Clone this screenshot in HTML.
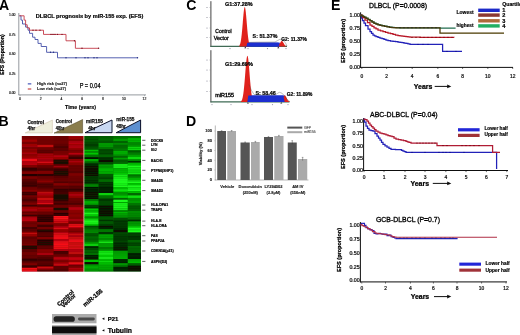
<!DOCTYPE html>
<html><head><meta charset="utf-8"><title>Figure</title>
<style>
html,body{margin:0;padding:0;background:#fff;}
body{width:520px;height:335px;overflow:hidden;}
svg{display:block;font-family:"Liberation Sans", sans-serif;}
</style></head>
<body>
<svg width="520" height="335" viewBox="0 0 520 335">
<defs>
<filter id="hb" x="-2%" y="-2%" width="104%" height="104%"><feGaussianBlur stdDeviation="0.35"/></filter>
<filter id="bb" x="-5%" y="-5%" width="110%" height="110%"><feGaussianBlur stdDeviation="0.5"/></filter>
<filter id="soft"><feGaussianBlur stdDeviation="0.3"/></filter>
</defs>
<rect width="520" height="335" fill="#fff"/>
<g filter="url(#soft)">
<text x="-1.0" y="9.6" font-size="14.1" font-weight="bold" text-anchor="start" fill="#000"  stroke="#000" stroke-width="0.000">A</text>
<text x="-1.4" y="126" font-size="14.1" font-weight="bold" text-anchor="start" fill="#000"  stroke="#000" stroke-width="0.000">B</text>
<text x="186.3" y="9.6" font-size="14.1" font-weight="bold" text-anchor="start" fill="#000"  stroke="#000" stroke-width="0.000">C</text>
<text x="186" y="125.9" font-size="14.1" font-weight="bold" text-anchor="start" fill="#000"  stroke="#000" stroke-width="0.000">D</text>
<text x="330.9" y="9.9" font-size="14.1" font-weight="bold" text-anchor="start" fill="#000"  stroke="#000" stroke-width="0.000">E</text>
<text x="35.7" y="17.6" font-size="5.7" font-weight="bold" text-anchor="start" fill="#000" textLength="107.6" lengthAdjust="spacingAndGlyphs"  stroke="#000" stroke-width="0.200">DLBCL prognosis by miR-155 exp. (EFS)</text>
<line x1="18.8" y1="13" x2="18.8" y2="95" stroke="#7a8088" stroke-width="0.8" />
<line x1="18.4" y1="94.9" x2="146" y2="94.9" stroke="#7a8088" stroke-width="0.8" />
<text x="15.5" y="16.2" font-size="3.4" font-weight="normal" text-anchor="end" fill="#111"  stroke="#111" stroke-width="0.153">1.00</text>
<text x="15.5" y="35.6" font-size="3.4" font-weight="normal" text-anchor="end" fill="#111"  stroke="#111" stroke-width="0.153">0.75</text>
<text x="15.5" y="55.2" font-size="3.4" font-weight="normal" text-anchor="end" fill="#111"  stroke="#111" stroke-width="0.153">0.50</text>
<text x="15.5" y="74.60000000000001" font-size="3.4" font-weight="normal" text-anchor="end" fill="#111"  stroke="#111" stroke-width="0.153">0.25</text>
<text x="15.5" y="93.8" font-size="3.4" font-weight="normal" text-anchor="end" fill="#111"  stroke="#111" stroke-width="0.153">0.00</text>
<text x="20" y="100.1" font-size="3.4" font-weight="normal" text-anchor="middle" fill="#111"  stroke="#111" stroke-width="0.153">0</text>
<line x1="20" y1="94.9" x2="20" y2="96.2" stroke="#7a8088" stroke-width="0.5" />
<text x="40.6" y="100.1" font-size="3.4" font-weight="normal" text-anchor="middle" fill="#111"  stroke="#111" stroke-width="0.153">2</text>
<line x1="40.6" y1="94.9" x2="40.6" y2="96.2" stroke="#7a8088" stroke-width="0.5" />
<text x="61.4" y="100.1" font-size="3.4" font-weight="normal" text-anchor="middle" fill="#111"  stroke="#111" stroke-width="0.153">4</text>
<line x1="61.4" y1="94.9" x2="61.4" y2="96.2" stroke="#7a8088" stroke-width="0.5" />
<text x="82.2" y="100.1" font-size="3.4" font-weight="normal" text-anchor="middle" fill="#111"  stroke="#111" stroke-width="0.153">6</text>
<line x1="82.2" y1="94.9" x2="82.2" y2="96.2" stroke="#7a8088" stroke-width="0.5" />
<text x="103" y="100.1" font-size="3.4" font-weight="normal" text-anchor="middle" fill="#111"  stroke="#111" stroke-width="0.153">8</text>
<line x1="103" y1="94.9" x2="103" y2="96.2" stroke="#7a8088" stroke-width="0.5" />
<text x="123.8" y="100.1" font-size="3.4" font-weight="normal" text-anchor="middle" fill="#111"  stroke="#111" stroke-width="0.153">10</text>
<line x1="123.8" y1="94.9" x2="123.8" y2="96.2" stroke="#7a8088" stroke-width="0.5" />
<text x="144.5" y="100.1" font-size="3.4" font-weight="normal" text-anchor="middle" fill="#111"  stroke="#111" stroke-width="0.153">12</text>
<line x1="144.5" y1="94.9" x2="144.5" y2="96.2" stroke="#7a8088" stroke-width="0.5" />
<text x="80.5" y="108.7" font-size="6.2" font-weight="bold" text-anchor="middle" fill="#000" textLength="31" lengthAdjust="spacingAndGlyphs"  stroke="#000" stroke-width="0.217">Time (years)</text>
<text transform="translate(3.9,54.5) rotate(-90)" font-size="5.4" font-weight="bold" text-anchor="middle" fill="#000" stroke="#000" stroke-width="0.243" textLength="40.5" lengthAdjust="spacingAndGlyphs">EFS (Proportion)</text>
<line x1="27.8" y1="83.9" x2="31.3" y2="83.9" stroke="#2233aa" stroke-width="1" />
<line x1="27.8" y1="89" x2="31.3" y2="89" stroke="#bb2222" stroke-width="1" />
<text x="37" y="84.7" font-size="4.1" font-weight="bold" text-anchor="start" fill="#222" textLength="30" lengthAdjust="spacingAndGlyphs"  stroke="#222" stroke-width="0.143">High risk (n=27)</text>
<text x="37" y="90.3" font-size="4.1" font-weight="bold" text-anchor="start" fill="#222" textLength="29" lengthAdjust="spacingAndGlyphs"  stroke="#222" stroke-width="0.143">Low risk (n=27)</text>
<text x="79.7" y="87.9" font-size="6.4" font-weight="normal" text-anchor="start" fill="#000" textLength="20.8" lengthAdjust="spacingAndGlyphs"  stroke="#000" stroke-width="0.250">P = 0.04</text>
<polyline points="19.40,15.80 21.00,15.80 21.00,20.10 22.50,20.10 22.50,24.00 25.60,24.00 25.60,27.10 28.00,27.10 28.00,30.20 29.50,30.20 29.50,33.30 32.60,33.30 32.60,37.20 35.00,37.20 35.00,39.50 38.00,39.50 38.00,43.40 41.20,43.40 41.20,46.50 46.60,46.50 46.60,52.30 57.50,52.30 57.50,57.80 137.50,57.80" fill="none" stroke="#4450a8" stroke-width="0.9" stroke-linejoin="miter" />
<polyline points="19.40,15.80 24.10,15.80 24.10,20.10 25.60,20.10 25.60,24.75 27.20,24.75 27.20,27.90 29.50,27.90 29.50,30.20 43.50,30.20 43.50,34.40 66.00,34.40 66.00,40.80 75.40,40.80 75.40,48.30 98.60,48.30" fill="none" stroke="#c43a48" stroke-width="0.9" stroke-linejoin="miter" />
<circle cx="33" cy="30.2" r="0.7" fill="#7a1420"/>
<circle cx="36" cy="30.2" r="0.7" fill="#7a1420"/>
<circle cx="40" cy="30.2" r="0.7" fill="#7a1420"/>
<circle cx="51" cy="34.4" r="0.7" fill="#7a1420"/>
<circle cx="53" cy="34.4" r="0.7" fill="#7a1420"/>
<circle cx="55" cy="34.4" r="0.7" fill="#7a1420"/>
<circle cx="57.5" cy="34.4" r="0.7" fill="#7a1420"/>
<circle cx="62" cy="34.4" r="0.7" fill="#7a1420"/>
<circle cx="74.5" cy="40.8" r="0.7" fill="#7a1420"/>
<circle cx="82" cy="48.3" r="0.7" fill="#7a1420"/>
<circle cx="98.6" cy="48.3" r="0.7" fill="#7a1420"/>
<circle cx="50.5" cy="52.3" r="0.7" fill="#232c80"/>
<circle cx="53.5" cy="52.3" r="0.7" fill="#232c80"/>
<circle cx="66" cy="57.8" r="0.7" fill="#232c80"/>
<circle cx="76" cy="57.8" r="0.7" fill="#232c80"/>
<circle cx="85" cy="57.8" r="0.7" fill="#232c80"/>
<circle cx="88" cy="57.8" r="0.7" fill="#232c80"/>
<circle cx="94" cy="57.8" r="0.7" fill="#232c80"/>
<circle cx="97" cy="57.8" r="0.7" fill="#232c80"/>
<circle cx="137.5" cy="57.8" r="0.7" fill="#232c80"/>
<polygon points="25.2,132.9 52.4,132.9 52.4,120" fill="#eeeedc" stroke="#c9b9a0" stroke-width="0.5"/>
<polygon points="54,133.1 82.6,133.1 82.6,119.5" fill="#8a7d4e" stroke="#4a4020" stroke-width="0.5"/>
<polygon points="85,132.7 112,132.7 112,120" fill="#c9d8f2" stroke="#0a0e28" stroke-width="1"/>
<polygon points="116.2,132.7 140.6,132.7 140.6,120" fill="#5b8fd0" stroke="#0a0e28" stroke-width="1"/>
<text x="27.4" y="123.8" font-size="5" font-weight="bold" text-anchor="start" fill="#111" textLength="16.6" lengthAdjust="spacingAndGlyphs"  stroke="#111" stroke-width="0.250">Control</text>
<text x="27.4" y="129.8" font-size="5" font-weight="bold" text-anchor="start" fill="#111" textLength="7.8" lengthAdjust="spacingAndGlyphs"  stroke="#111" stroke-width="0.250">4hr</text>
<text x="55.8" y="122.7" font-size="5" font-weight="bold" text-anchor="start" fill="#111" textLength="16.2" lengthAdjust="spacingAndGlyphs"  stroke="#111" stroke-width="0.250">Control</text>
<text x="55.8" y="129.5" font-size="5" font-weight="bold" text-anchor="start" fill="#111" textLength="8.4" lengthAdjust="spacingAndGlyphs"  stroke="#111" stroke-width="0.250">48hr</text>
<text x="86" y="123.4" font-size="5" font-weight="bold" text-anchor="start" fill="#111" textLength="17" lengthAdjust="spacingAndGlyphs"  stroke="#111" stroke-width="0.250">miR155</text>
<text x="88.2" y="130.2" font-size="5" font-weight="bold" text-anchor="start" fill="#111" textLength="7.4" lengthAdjust="spacingAndGlyphs"  stroke="#111" stroke-width="0.250">4hr</text>
<text x="116.2" y="120.8" font-size="5" font-weight="bold" text-anchor="start" fill="#111" textLength="18.2" lengthAdjust="spacingAndGlyphs"  stroke="#111" stroke-width="0.250">miR-155</text>
<text x="116.2" y="127.5" font-size="5" font-weight="bold" text-anchor="start" fill="#111" textLength="9.6" lengthAdjust="spacingAndGlyphs"  stroke="#111" stroke-width="0.250">48hr</text>
<g filter="url(#hb)">
<rect x="21.9" y="136" width="61.7" height="135.4" fill="#7a0000"/>
<rect x="84.2" y="136" width="56.7" height="135.4" fill="#007000"/>
<rect x="21.90" y="136.00" width="15.35" height="2.74" fill="rgb(117,0,0)"/>
<rect x="21.90" y="138.69" width="15.35" height="1.59" fill="rgb(138,0,3)"/>
<rect x="21.90" y="140.23" width="15.35" height="1.59" fill="rgb(169,3,9)"/>
<rect x="21.90" y="141.77" width="15.35" height="2.51" fill="rgb(121,0,0)"/>
<rect x="21.90" y="144.23" width="15.35" height="1.59" fill="rgb(167,3,9)"/>
<rect x="21.90" y="145.77" width="15.35" height="1.59" fill="rgb(156,1,7)"/>
<rect x="21.90" y="147.31" width="15.35" height="1.59" fill="rgb(120,0,0)"/>
<rect x="21.90" y="148.85" width="15.35" height="1.59" fill="rgb(145,0,5)"/>
<rect x="21.90" y="150.38" width="15.35" height="1.90" fill="rgb(138,0,3)"/>
<rect x="21.90" y="152.23" width="15.35" height="1.90" fill="rgb(165,2,9)"/>
<rect x="21.90" y="154.08" width="15.35" height="1.90" fill="rgb(141,0,4)"/>
<rect x="21.90" y="155.92" width="15.35" height="1.59" fill="rgb(150,0,6)"/>
<rect x="21.90" y="157.46" width="15.35" height="1.59" fill="rgb(174,4,10)"/>
<rect x="21.90" y="159.00" width="15.35" height="2.10" fill="rgb(235,15,23)"/>
<rect x="21.90" y="161.05" width="15.35" height="2.10" fill="rgb(177,4,11)"/>
<rect x="21.90" y="163.10" width="15.35" height="2.10" fill="rgb(185,6,13)"/>
<rect x="21.90" y="165.15" width="15.35" height="2.51" fill="rgb(128,0,1)"/>
<rect x="21.90" y="167.62" width="15.35" height="1.43" fill="rgb(51,0,0)"/>
<rect x="21.90" y="169.00" width="15.35" height="1.90" fill="rgb(53,0,0)"/>
<rect x="21.90" y="170.85" width="15.35" height="1.59" fill="rgb(108,0,0)"/>
<rect x="21.90" y="172.38" width="15.35" height="1.59" fill="rgb(134,0,2)"/>
<rect x="21.90" y="173.92" width="15.35" height="2.51" fill="rgb(35,6,0)"/>
<rect x="21.90" y="176.38" width="15.35" height="2.51" fill="rgb(119,0,0)"/>
<rect x="21.90" y="178.85" width="15.35" height="2.51" fill="rgb(88,0,0)"/>
<rect x="21.90" y="181.31" width="15.35" height="1.59" fill="rgb(67,0,0)"/>
<rect x="21.90" y="182.85" width="15.35" height="1.59" fill="rgb(66,0,0)"/>
<rect x="21.90" y="184.38" width="15.35" height="2.51" fill="rgb(56,0,0)"/>
<rect x="21.90" y="186.85" width="15.35" height="1.90" fill="rgb(107,0,0)"/>
<rect x="21.90" y="188.69" width="15.35" height="1.59" fill="rgb(114,0,0)"/>
<rect x="21.90" y="190.23" width="15.35" height="1.59" fill="rgb(135,0,3)"/>
<rect x="21.90" y="191.77" width="15.35" height="1.90" fill="rgb(64,0,0)"/>
<rect x="21.90" y="193.62" width="15.35" height="1.90" fill="rgb(58,0,0)"/>
<rect x="21.90" y="195.46" width="15.35" height="1.90" fill="rgb(115,0,0)"/>
<rect x="21.90" y="197.31" width="15.35" height="1.90" fill="rgb(94,0,0)"/>
<rect x="21.90" y="199.15" width="15.35" height="2.51" fill="rgb(72,0,0)"/>
<rect x="21.90" y="201.62" width="15.35" height="1.43" fill="rgb(108,0,0)"/>
<rect x="21.90" y="203.00" width="15.35" height="1.90" fill="rgb(124,0,0)"/>
<rect x="21.90" y="204.85" width="15.35" height="1.90" fill="rgb(65,0,0)"/>
<rect x="21.90" y="206.69" width="15.35" height="1.69" fill="rgb(152,0,6)"/>
<rect x="21.90" y="208.33" width="15.35" height="1.69" fill="rgb(170,3,10)"/>
<rect x="21.90" y="209.97" width="15.35" height="1.69" fill="rgb(161,1,8)"/>
<rect x="21.90" y="211.62" width="15.35" height="1.59" fill="rgb(98,0,0)"/>
<rect x="21.90" y="213.15" width="15.35" height="1.59" fill="rgb(119,0,0)"/>
<rect x="21.90" y="214.69" width="15.35" height="1.90" fill="rgb(62,0,0)"/>
<rect x="21.90" y="216.54" width="15.35" height="1.69" fill="rgb(165,2,9)"/>
<rect x="21.90" y="218.18" width="15.35" height="1.69" fill="rgb(189,7,13)"/>
<rect x="21.90" y="219.82" width="15.35" height="1.69" fill="rgb(186,6,13)"/>
<rect x="21.90" y="221.46" width="15.35" height="1.59" fill="rgb(111,0,0)"/>
<rect x="21.90" y="223.00" width="15.35" height="1.59" fill="rgb(105,0,0)"/>
<rect x="21.90" y="224.54" width="15.35" height="2.51" fill="rgb(115,0,0)"/>
<rect x="21.90" y="227.00" width="15.35" height="2.51" fill="rgb(69,0,0)"/>
<rect x="21.90" y="229.46" width="15.35" height="1.59" fill="rgb(90,0,0)"/>
<rect x="21.90" y="231.00" width="15.35" height="1.59" fill="rgb(103,0,0)"/>
<rect x="21.90" y="232.54" width="15.35" height="1.90" fill="rgb(192,7,14)"/>
<rect x="21.90" y="234.38" width="15.35" height="1.90" fill="rgb(150,0,6)"/>
<rect x="21.90" y="236.23" width="15.35" height="0.82" fill="rgb(115,0,0)"/>
<rect x="21.90" y="237.00" width="15.35" height="2.51" fill="rgb(95,0,0)"/>
<rect x="21.90" y="239.46" width="15.35" height="1.59" fill="rgb(103,0,0)"/>
<rect x="21.90" y="241.00" width="15.35" height="1.59" fill="rgb(107,0,0)"/>
<rect x="21.90" y="242.54" width="15.35" height="1.59" fill="rgb(109,0,0)"/>
<rect x="21.90" y="244.08" width="15.35" height="1.59" fill="rgb(122,0,0)"/>
<rect x="21.90" y="245.62" width="15.35" height="1.90" fill="rgb(26,10,0)"/>
<rect x="21.90" y="247.46" width="15.35" height="1.90" fill="rgb(31,8,0)"/>
<rect x="21.90" y="249.31" width="15.35" height="1.59" fill="rgb(90,0,0)"/>
<rect x="21.90" y="250.85" width="15.35" height="1.59" fill="rgb(90,0,0)"/>
<rect x="21.90" y="252.38" width="15.35" height="2.51" fill="rgb(114,0,0)"/>
<rect x="21.90" y="254.85" width="15.35" height="1.90" fill="rgb(98,0,0)"/>
<rect x="21.90" y="256.69" width="15.35" height="1.90" fill="rgb(102,0,0)"/>
<rect x="21.90" y="258.54" width="15.35" height="1.59" fill="rgb(48,0,0)"/>
<rect x="21.90" y="260.08" width="15.35" height="1.59" fill="rgb(51,0,0)"/>
<rect x="21.90" y="261.62" width="15.35" height="1.90" fill="rgb(96,0,0)"/>
<rect x="21.90" y="263.46" width="15.35" height="1.90" fill="rgb(125,0,1)"/>
<rect x="21.90" y="265.31" width="15.35" height="2.51" fill="rgb(61,0,0)"/>
<rect x="21.90" y="267.77" width="15.35" height="1.87" fill="rgb(243,16,24)"/>
<rect x="21.90" y="269.58" width="15.35" height="1.87" fill="rgb(229,14,21)"/>
<rect x="37.20" y="136.00" width="16.45" height="2.74" fill="rgb(115,0,0)"/>
<rect x="37.20" y="138.69" width="16.45" height="2.51" fill="rgb(111,0,0)"/>
<rect x="37.20" y="141.15" width="16.45" height="1.90" fill="rgb(113,0,0)"/>
<rect x="37.20" y="143.00" width="16.45" height="1.90" fill="rgb(110,0,0)"/>
<rect x="37.20" y="144.85" width="16.45" height="2.51" fill="rgb(191,7,14)"/>
<rect x="37.20" y="147.31" width="16.45" height="2.51" fill="rgb(109,0,0)"/>
<rect x="37.20" y="149.77" width="16.45" height="1.90" fill="rgb(90,0,0)"/>
<rect x="37.20" y="151.62" width="16.45" height="1.90" fill="rgb(88,0,0)"/>
<rect x="37.20" y="153.46" width="16.45" height="2.51" fill="rgb(160,1,8)"/>
<rect x="37.20" y="155.92" width="16.45" height="1.59" fill="rgb(165,2,9)"/>
<rect x="37.20" y="157.46" width="16.45" height="1.59" fill="rgb(174,4,10)"/>
<rect x="37.20" y="159.00" width="16.45" height="2.51" fill="rgb(157,1,7)"/>
<rect x="37.20" y="161.46" width="16.45" height="1.90" fill="rgb(211,10,18)"/>
<rect x="37.20" y="163.31" width="16.45" height="1.90" fill="rgb(154,0,6)"/>
<rect x="37.20" y="165.15" width="16.45" height="2.51" fill="rgb(102,0,0)"/>
<rect x="37.20" y="167.62" width="16.45" height="1.43" fill="rgb(80,0,0)"/>
<rect x="37.20" y="169.00" width="16.45" height="1.90" fill="rgb(70,0,0)"/>
<rect x="37.20" y="170.85" width="16.45" height="1.59" fill="rgb(127,0,1)"/>
<rect x="37.20" y="172.38" width="16.45" height="1.59" fill="rgb(129,0,1)"/>
<rect x="37.20" y="173.92" width="16.45" height="2.51" fill="rgb(47,1,0)"/>
<rect x="37.20" y="176.38" width="16.45" height="2.51" fill="rgb(101,0,0)"/>
<rect x="37.20" y="178.85" width="16.45" height="1.90" fill="rgb(115,0,0)"/>
<rect x="37.20" y="180.69" width="16.45" height="1.90" fill="rgb(140,0,4)"/>
<rect x="37.20" y="182.54" width="16.45" height="1.59" fill="rgb(92,0,0)"/>
<rect x="37.20" y="184.08" width="16.45" height="1.59" fill="rgb(67,0,0)"/>
<rect x="37.20" y="185.62" width="16.45" height="1.59" fill="rgb(76,0,0)"/>
<rect x="37.20" y="187.15" width="16.45" height="1.59" fill="rgb(78,0,0)"/>
<rect x="37.20" y="188.69" width="16.45" height="1.59" fill="rgb(109,0,0)"/>
<rect x="37.20" y="190.23" width="16.45" height="1.59" fill="rgb(121,0,0)"/>
<rect x="37.20" y="191.77" width="16.45" height="2.10" fill="rgb(189,7,13)"/>
<rect x="37.20" y="193.82" width="16.45" height="2.10" fill="rgb(166,2,9)"/>
<rect x="37.20" y="195.87" width="16.45" height="2.10" fill="rgb(147,0,5)"/>
<rect x="37.20" y="197.92" width="16.45" height="2.51" fill="rgb(198,8,15)"/>
<rect x="37.20" y="200.38" width="16.45" height="2.67" fill="rgb(173,4,10)"/>
<rect x="37.20" y="203.00" width="16.45" height="1.53" fill="rgb(218,12,19)"/>
<rect x="37.20" y="204.48" width="16.45" height="2.88" fill="rgb(91,0,0)"/>
<rect x="37.20" y="207.31" width="16.45" height="2.20" fill="rgb(156,1,7)"/>
<rect x="37.20" y="209.46" width="16.45" height="2.20" fill="rgb(146,0,5)"/>
<rect x="37.20" y="211.62" width="16.45" height="1.59" fill="rgb(101,0,0)"/>
<rect x="37.20" y="213.15" width="16.45" height="1.59" fill="rgb(103,0,0)"/>
<rect x="37.20" y="214.69" width="16.45" height="1.90" fill="rgb(56,0,0)"/>
<rect x="37.20" y="216.54" width="16.45" height="1.90" fill="rgb(44,2,0)"/>
<rect x="37.20" y="218.38" width="16.45" height="1.90" fill="rgb(43,3,0)"/>
<rect x="37.20" y="220.23" width="16.45" height="1.90" fill="rgb(44,2,0)"/>
<rect x="37.20" y="222.08" width="16.45" height="2.51" fill="rgb(119,0,0)"/>
<rect x="37.20" y="224.54" width="16.45" height="2.51" fill="rgb(65,0,0)"/>
<rect x="37.20" y="227.00" width="16.45" height="2.51" fill="rgb(111,0,0)"/>
<rect x="37.20" y="229.46" width="16.45" height="1.59" fill="rgb(32,8,0)"/>
<rect x="37.20" y="231.00" width="16.45" height="1.59" fill="rgb(40,4,0)"/>
<rect x="37.20" y="232.54" width="16.45" height="1.59" fill="rgb(88,0,0)"/>
<rect x="37.20" y="234.08" width="16.45" height="1.59" fill="rgb(88,0,0)"/>
<rect x="37.20" y="235.62" width="16.45" height="1.43" fill="rgb(77,0,0)"/>
<rect x="37.20" y="237.00" width="16.45" height="2.51" fill="rgb(126,0,1)"/>
<rect x="37.20" y="239.46" width="16.45" height="2.10" fill="rgb(36,6,0)"/>
<rect x="37.20" y="241.51" width="16.45" height="2.10" fill="rgb(31,8,0)"/>
<rect x="37.20" y="243.56" width="16.45" height="2.10" fill="rgb(31,8,0)"/>
<rect x="37.20" y="245.62" width="16.45" height="1.90" fill="rgb(92,0,0)"/>
<rect x="37.20" y="247.46" width="16.45" height="1.90" fill="rgb(90,0,0)"/>
<rect x="37.20" y="249.31" width="16.45" height="2.51" fill="rgb(137,0,3)"/>
<rect x="37.20" y="251.77" width="16.45" height="1.59" fill="rgb(134,0,2)"/>
<rect x="37.20" y="253.31" width="16.45" height="1.59" fill="rgb(189,7,13)"/>
<rect x="37.20" y="254.85" width="16.45" height="1.90" fill="rgb(101,0,0)"/>
<rect x="37.20" y="256.69" width="16.45" height="1.90" fill="rgb(83,0,0)"/>
<rect x="37.20" y="258.54" width="16.45" height="1.59" fill="rgb(61,0,0)"/>
<rect x="37.20" y="260.08" width="16.45" height="1.59" fill="rgb(63,0,0)"/>
<rect x="37.20" y="261.62" width="16.45" height="1.59" fill="rgb(91,0,0)"/>
<rect x="37.20" y="263.15" width="16.45" height="1.59" fill="rgb(82,0,0)"/>
<rect x="37.20" y="264.69" width="16.45" height="1.90" fill="rgb(66,0,0)"/>
<rect x="37.20" y="266.54" width="16.45" height="1.59" fill="rgb(196,8,15)"/>
<rect x="37.20" y="268.08" width="16.45" height="1.59" fill="rgb(162,2,8)"/>
<rect x="37.20" y="269.62" width="16.45" height="1.83" fill="rgb(86,0,0)"/>
<rect x="53.60" y="136.00" width="15.05" height="2.74" fill="rgb(105,0,0)"/>
<rect x="53.60" y="138.69" width="15.05" height="2.51" fill="rgb(106,0,0)"/>
<rect x="53.60" y="141.15" width="15.05" height="2.51" fill="rgb(109,0,0)"/>
<rect x="53.60" y="143.62" width="15.05" height="2.51" fill="rgb(96,0,0)"/>
<rect x="53.60" y="146.08" width="15.05" height="2.51" fill="rgb(76,0,0)"/>
<rect x="53.60" y="148.54" width="15.05" height="2.51" fill="rgb(92,0,0)"/>
<rect x="53.60" y="151.00" width="15.05" height="2.51" fill="rgb(118,0,0)"/>
<rect x="53.60" y="153.46" width="15.05" height="1.90" fill="rgb(125,0,1)"/>
<rect x="53.60" y="155.31" width="15.05" height="2.20" fill="rgb(181,5,12)"/>
<rect x="53.60" y="157.46" width="15.05" height="2.20" fill="rgb(154,0,6)"/>
<rect x="53.60" y="159.62" width="15.05" height="2.20" fill="rgb(29,9,0)"/>
<rect x="53.60" y="161.77" width="15.05" height="2.20" fill="rgb(23,12,0)"/>
<rect x="53.60" y="163.92" width="15.05" height="1.90" fill="rgb(88,0,0)"/>
<rect x="53.60" y="165.77" width="15.05" height="1.90" fill="rgb(155,0,7)"/>
<rect x="53.60" y="167.62" width="15.05" height="1.43" fill="rgb(79,0,0)"/>
<rect x="53.60" y="169.00" width="15.05" height="1.90" fill="rgb(56,0,0)"/>
<rect x="53.60" y="170.85" width="15.05" height="1.90" fill="rgb(31,8,0)"/>
<rect x="53.60" y="172.69" width="15.05" height="1.59" fill="rgb(24,11,0)"/>
<rect x="53.60" y="174.23" width="15.05" height="1.59" fill="rgb(22,12,0)"/>
<rect x="53.60" y="175.77" width="15.05" height="2.51" fill="rgb(86,0,0)"/>
<rect x="53.60" y="178.23" width="15.05" height="1.59" fill="rgb(97,0,0)"/>
<rect x="53.60" y="179.77" width="15.05" height="1.59" fill="rgb(106,0,0)"/>
<rect x="53.60" y="181.31" width="15.05" height="1.90" fill="rgb(81,0,0)"/>
<rect x="53.60" y="183.15" width="15.05" height="2.51" fill="rgb(132,0,2)"/>
<rect x="53.60" y="185.62" width="15.05" height="1.59" fill="rgb(88,0,0)"/>
<rect x="53.60" y="187.15" width="15.05" height="1.59" fill="rgb(93,0,0)"/>
<rect x="53.60" y="188.69" width="15.05" height="1.59" fill="rgb(49,0,0)"/>
<rect x="53.60" y="190.23" width="15.05" height="1.59" fill="rgb(48,0,0)"/>
<rect x="53.60" y="191.77" width="15.05" height="2.51" fill="rgb(68,0,0)"/>
<rect x="53.60" y="194.23" width="15.05" height="1.90" fill="rgb(23,12,0)"/>
<rect x="53.60" y="196.08" width="15.05" height="1.90" fill="rgb(19,13,0)"/>
<rect x="53.60" y="197.92" width="15.05" height="1.90" fill="rgb(21,13,0)"/>
<rect x="53.60" y="199.77" width="15.05" height="1.90" fill="rgb(49,0,0)"/>
<rect x="53.60" y="201.62" width="15.05" height="1.43" fill="rgb(85,0,0)"/>
<rect x="53.60" y="203.00" width="15.05" height="1.90" fill="rgb(63,0,0)"/>
<rect x="53.60" y="204.85" width="15.05" height="1.59" fill="rgb(106,0,0)"/>
<rect x="53.60" y="206.38" width="15.05" height="1.59" fill="rgb(105,0,0)"/>
<rect x="53.60" y="207.92" width="15.05" height="2.51" fill="rgb(20,13,0)"/>
<rect x="53.60" y="210.38" width="15.05" height="2.51" fill="rgb(102,0,0)"/>
<rect x="53.60" y="212.85" width="15.05" height="1.59" fill="rgb(37,5,0)"/>
<rect x="53.60" y="214.38" width="15.05" height="1.59" fill="rgb(45,2,0)"/>
<rect x="53.60" y="215.92" width="15.05" height="1.90" fill="rgb(250,18,26)"/>
<rect x="53.60" y="217.77" width="15.05" height="1.90" fill="rgb(250,18,26)"/>
<rect x="53.60" y="219.62" width="15.05" height="1.90" fill="rgb(211,10,18)"/>
<rect x="53.60" y="221.46" width="15.05" height="1.90" fill="rgb(198,8,15)"/>
<rect x="53.60" y="223.31" width="15.05" height="1.59" fill="rgb(129,0,1)"/>
<rect x="53.60" y="224.85" width="15.05" height="1.59" fill="rgb(128,0,1)"/>
<rect x="53.60" y="226.38" width="15.05" height="1.59" fill="rgb(180,5,12)"/>
<rect x="53.60" y="227.92" width="15.05" height="1.59" fill="rgb(213,11,18)"/>
<rect x="53.60" y="229.46" width="15.05" height="1.59" fill="rgb(145,0,5)"/>
<rect x="53.60" y="231.00" width="15.05" height="1.59" fill="rgb(142,0,4)"/>
<rect x="53.60" y="232.54" width="15.05" height="2.28" fill="rgb(211,10,18)"/>
<rect x="53.60" y="234.77" width="15.05" height="2.28" fill="rgb(226,13,21)"/>
<rect x="53.60" y="237.00" width="15.05" height="2.10" fill="rgb(238,15,23)"/>
<rect x="53.60" y="239.05" width="15.05" height="2.10" fill="rgb(178,5,11)"/>
<rect x="53.60" y="241.10" width="15.05" height="2.10" fill="rgb(226,13,21)"/>
<rect x="53.60" y="243.15" width="15.05" height="2.10" fill="rgb(247,17,25)"/>
<rect x="53.60" y="245.21" width="15.05" height="2.10" fill="rgb(237,15,23)"/>
<rect x="53.60" y="247.26" width="15.05" height="2.10" fill="rgb(234,15,22)"/>
<rect x="53.60" y="249.31" width="15.05" height="1.90" fill="rgb(173,4,10)"/>
<rect x="53.60" y="251.15" width="15.05" height="1.59" fill="rgb(59,0,0)"/>
<rect x="53.60" y="252.69" width="15.05" height="1.59" fill="rgb(75,0,0)"/>
<rect x="53.60" y="254.23" width="15.05" height="1.59" fill="rgb(99,0,0)"/>
<rect x="53.60" y="255.77" width="15.05" height="1.59" fill="rgb(119,0,0)"/>
<rect x="53.60" y="257.31" width="15.05" height="1.59" fill="rgb(195,8,15)"/>
<rect x="53.60" y="258.85" width="15.05" height="1.59" fill="rgb(158,1,7)"/>
<rect x="53.60" y="260.38" width="15.05" height="1.59" fill="rgb(121,0,0)"/>
<rect x="53.60" y="261.92" width="15.05" height="1.59" fill="rgb(148,0,5)"/>
<rect x="53.60" y="263.46" width="15.05" height="2.51" fill="rgb(189,7,13)"/>
<rect x="53.60" y="265.92" width="15.05" height="2.51" fill="rgb(92,0,0)"/>
<rect x="53.60" y="268.38" width="15.05" height="1.56" fill="rgb(82,0,0)"/>
<rect x="53.60" y="269.89" width="15.05" height="1.56" fill="rgb(83,0,0)"/>
<rect x="68.60" y="136.00" width="15.05" height="1.70" fill="rgb(157,1,7)"/>
<rect x="68.60" y="137.65" width="15.05" height="1.70" fill="rgb(152,0,6)"/>
<rect x="68.60" y="139.31" width="15.05" height="1.59" fill="rgb(125,0,1)"/>
<rect x="68.60" y="140.85" width="15.05" height="1.59" fill="rgb(164,2,8)"/>
<rect x="68.60" y="142.38" width="15.05" height="1.90" fill="rgb(184,6,12)"/>
<rect x="68.60" y="144.23" width="15.05" height="1.90" fill="rgb(164,2,8)"/>
<rect x="68.60" y="146.08" width="15.05" height="2.51" fill="rgb(173,4,10)"/>
<rect x="68.60" y="148.54" width="15.05" height="1.59" fill="rgb(138,0,3)"/>
<rect x="68.60" y="150.08" width="15.05" height="1.59" fill="rgb(116,0,0)"/>
<rect x="68.60" y="151.62" width="15.05" height="1.59" fill="rgb(133,0,2)"/>
<rect x="68.60" y="153.15" width="15.05" height="1.59" fill="rgb(195,8,15)"/>
<rect x="68.60" y="154.69" width="15.05" height="1.90" fill="rgb(102,0,0)"/>
<rect x="68.60" y="156.54" width="15.05" height="2.51" fill="rgb(58,0,0)"/>
<rect x="68.60" y="159.00" width="15.05" height="1.90" fill="rgb(136,0,3)"/>
<rect x="68.60" y="160.85" width="15.05" height="1.90" fill="rgb(170,3,10)"/>
<rect x="68.60" y="162.69" width="15.05" height="2.51" fill="rgb(133,0,2)"/>
<rect x="68.60" y="165.15" width="15.05" height="2.51" fill="rgb(98,0,0)"/>
<rect x="68.60" y="167.62" width="15.05" height="1.43" fill="rgb(100,0,0)"/>
<rect x="68.60" y="169.00" width="15.05" height="1.90" fill="rgb(102,0,0)"/>
<rect x="68.60" y="170.85" width="15.05" height="2.51" fill="rgb(88,0,0)"/>
<rect x="68.60" y="173.31" width="15.05" height="2.51" fill="rgb(125,0,1)"/>
<rect x="68.60" y="175.77" width="15.05" height="2.51" fill="rgb(108,0,0)"/>
<rect x="68.60" y="178.23" width="15.05" height="1.59" fill="rgb(102,0,0)"/>
<rect x="68.60" y="179.77" width="15.05" height="1.59" fill="rgb(109,0,0)"/>
<rect x="68.60" y="181.31" width="15.05" height="2.20" fill="rgb(89,0,0)"/>
<rect x="68.60" y="183.46" width="15.05" height="2.20" fill="rgb(121,0,0)"/>
<rect x="68.60" y="185.62" width="15.05" height="1.59" fill="rgb(82,0,0)"/>
<rect x="68.60" y="187.15" width="15.05" height="1.59" fill="rgb(85,0,0)"/>
<rect x="68.60" y="188.69" width="15.05" height="1.59" fill="rgb(54,0,0)"/>
<rect x="68.60" y="190.23" width="15.05" height="1.59" fill="rgb(60,0,0)"/>
<rect x="68.60" y="191.77" width="15.05" height="2.10" fill="rgb(143,0,4)"/>
<rect x="68.60" y="193.82" width="15.05" height="2.10" fill="rgb(172,3,10)"/>
<rect x="68.60" y="195.87" width="15.05" height="2.10" fill="rgb(148,0,5)"/>
<rect x="68.60" y="197.92" width="15.05" height="2.51" fill="rgb(106,0,0)"/>
<rect x="68.60" y="200.38" width="15.05" height="2.67" fill="rgb(96,0,0)"/>
<rect x="68.60" y="203.00" width="15.05" height="1.90" fill="rgb(78,0,0)"/>
<rect x="68.60" y="204.85" width="15.05" height="2.51" fill="rgb(123,0,0)"/>
<rect x="68.60" y="207.31" width="15.05" height="1.59" fill="rgb(186,6,13)"/>
<rect x="68.60" y="208.85" width="15.05" height="1.59" fill="rgb(171,3,10)"/>
<rect x="68.60" y="210.38" width="15.05" height="2.51" fill="rgb(140,0,4)"/>
<rect x="68.60" y="212.85" width="15.05" height="1.59" fill="rgb(126,0,1)"/>
<rect x="68.60" y="214.38" width="15.05" height="1.59" fill="rgb(143,0,4)"/>
<rect x="68.60" y="215.92" width="15.05" height="1.59" fill="rgb(137,0,3)"/>
<rect x="68.60" y="217.46" width="15.05" height="1.59" fill="rgb(128,0,1)"/>
<rect x="68.60" y="219.00" width="15.05" height="2.51" fill="rgb(162,2,8)"/>
<rect x="68.60" y="221.46" width="15.05" height="2.51" fill="rgb(117,0,0)"/>
<rect x="68.60" y="223.92" width="15.05" height="1.90" fill="rgb(218,12,19)"/>
<rect x="68.60" y="225.77" width="15.05" height="1.90" fill="rgb(237,15,23)"/>
<rect x="68.60" y="227.62" width="15.05" height="1.90" fill="rgb(139,0,3)"/>
<rect x="68.60" y="229.46" width="15.05" height="1.59" fill="rgb(129,0,1)"/>
<rect x="68.60" y="231.00" width="15.05" height="1.59" fill="rgb(113,0,0)"/>
<rect x="68.60" y="232.54" width="15.05" height="1.59" fill="rgb(168,3,9)"/>
<rect x="68.60" y="234.08" width="15.05" height="1.59" fill="rgb(203,9,16)"/>
<rect x="68.60" y="235.62" width="15.05" height="1.43" fill="rgb(165,2,9)"/>
<rect x="68.60" y="237.00" width="15.05" height="1.59" fill="rgb(198,8,15)"/>
<rect x="68.60" y="238.54" width="15.05" height="1.59" fill="rgb(213,11,18)"/>
<rect x="68.60" y="240.08" width="15.05" height="2.10" fill="rgb(236,15,23)"/>
<rect x="68.60" y="242.13" width="15.05" height="2.10" fill="rgb(199,8,15)"/>
<rect x="68.60" y="244.18" width="15.05" height="2.10" fill="rgb(212,11,18)"/>
<rect x="68.60" y="246.23" width="15.05" height="1.59" fill="rgb(213,11,18)"/>
<rect x="68.60" y="247.77" width="15.05" height="1.59" fill="rgb(214,11,18)"/>
<rect x="68.60" y="249.31" width="15.05" height="2.51" fill="rgb(177,4,11)"/>
<rect x="68.60" y="251.77" width="15.05" height="2.51" fill="rgb(190,7,14)"/>
<rect x="68.60" y="254.23" width="15.05" height="1.59" fill="rgb(137,0,3)"/>
<rect x="68.60" y="255.77" width="15.05" height="1.59" fill="rgb(134,0,2)"/>
<rect x="68.60" y="257.31" width="15.05" height="1.59" fill="rgb(204,9,16)"/>
<rect x="68.60" y="258.85" width="15.05" height="1.59" fill="rgb(188,6,13)"/>
<rect x="68.60" y="260.38" width="15.05" height="1.90" fill="rgb(144,0,4)"/>
<rect x="68.60" y="262.23" width="15.05" height="2.51" fill="rgb(227,13,21)"/>
<rect x="68.60" y="264.69" width="15.05" height="1.59" fill="rgb(105,0,0)"/>
<rect x="68.60" y="266.23" width="15.05" height="1.59" fill="rgb(119,0,0)"/>
<rect x="68.60" y="267.77" width="15.05" height="1.87" fill="rgb(170,3,10)"/>
<rect x="68.60" y="269.58" width="15.05" height="1.87" fill="rgb(164,2,8)"/>
<rect x="84.20" y="136.00" width="14.45" height="2.74" fill="rgb(0,83,0)"/>
<rect x="84.20" y="138.69" width="14.45" height="1.69" fill="rgb(0,74,0)"/>
<rect x="84.20" y="140.33" width="14.45" height="1.69" fill="rgb(0,85,0)"/>
<rect x="84.20" y="141.97" width="14.45" height="1.69" fill="rgb(0,72,0)"/>
<rect x="84.20" y="143.62" width="14.45" height="1.59" fill="rgb(0,61,0)"/>
<rect x="84.20" y="145.15" width="14.45" height="1.59" fill="rgb(0,56,0)"/>
<rect x="84.20" y="146.69" width="14.45" height="1.59" fill="rgb(0,82,0)"/>
<rect x="84.20" y="148.23" width="14.45" height="1.59" fill="rgb(0,86,0)"/>
<rect x="84.20" y="149.77" width="14.45" height="1.59" fill="rgb(0,190,0)"/>
<rect x="84.20" y="151.31" width="14.45" height="1.59" fill="rgb(0,142,0)"/>
<rect x="84.20" y="152.85" width="14.45" height="1.90" fill="rgb(4,199,4)"/>
<rect x="84.20" y="154.69" width="14.45" height="2.51" fill="rgb(0,113,0)"/>
<rect x="84.20" y="157.15" width="14.45" height="1.90" fill="rgb(6,25,0)"/>
<rect x="84.20" y="159.00" width="14.45" height="2.51" fill="rgb(0,167,0)"/>
<rect x="84.20" y="161.46" width="14.45" height="1.90" fill="rgb(0,103,0)"/>
<rect x="84.20" y="163.31" width="14.45" height="2.51" fill="rgb(0,43,0)"/>
<rect x="84.20" y="165.77" width="14.45" height="1.67" fill="rgb(9,17,0)"/>
<rect x="84.20" y="167.38" width="14.45" height="1.67" fill="rgb(10,13,0)"/>
<rect x="84.20" y="169.00" width="14.45" height="1.90" fill="rgb(10,14,0)"/>
<rect x="84.20" y="170.85" width="14.45" height="1.90" fill="rgb(9,17,0)"/>
<rect x="84.20" y="172.69" width="14.45" height="1.90" fill="rgb(9,16,0)"/>
<rect x="84.20" y="174.54" width="14.45" height="1.90" fill="rgb(11,12,0)"/>
<rect x="84.20" y="176.38" width="14.45" height="1.59" fill="rgb(0,56,0)"/>
<rect x="84.20" y="177.92" width="14.45" height="1.59" fill="rgb(0,58,0)"/>
<rect x="84.20" y="179.46" width="14.45" height="2.20" fill="rgb(0,45,0)"/>
<rect x="84.20" y="181.62" width="14.45" height="2.20" fill="rgb(0,42,0)"/>
<rect x="84.20" y="183.77" width="14.45" height="1.59" fill="rgb(0,117,0)"/>
<rect x="84.20" y="185.31" width="14.45" height="1.59" fill="rgb(0,137,0)"/>
<rect x="84.20" y="186.85" width="14.45" height="1.69" fill="rgb(6,23,0)"/>
<rect x="84.20" y="188.49" width="14.45" height="1.69" fill="rgb(4,29,0)"/>
<rect x="84.20" y="190.13" width="14.45" height="1.69" fill="rgb(4,28,0)"/>
<rect x="84.20" y="191.77" width="14.45" height="1.90" fill="rgb(11,11,0)"/>
<rect x="84.20" y="193.62" width="14.45" height="1.90" fill="rgb(10,13,0)"/>
<rect x="84.20" y="195.46" width="14.45" height="1.90" fill="rgb(10,15,0)"/>
<rect x="84.20" y="197.31" width="14.45" height="1.90" fill="rgb(10,14,0)"/>
<rect x="84.20" y="199.15" width="14.45" height="1.97" fill="rgb(0,120,0)"/>
<rect x="84.20" y="201.08" width="14.45" height="1.97" fill="rgb(0,173,0)"/>
<rect x="84.20" y="203.00" width="14.45" height="1.90" fill="rgb(0,161,0)"/>
<rect x="84.20" y="204.85" width="14.45" height="1.90" fill="rgb(0,68,0)"/>
<rect x="84.20" y="206.69" width="14.45" height="1.90" fill="rgb(0,49,0)"/>
<rect x="84.20" y="208.54" width="14.45" height="2.05" fill="rgb(6,202,6)"/>
<rect x="84.20" y="210.54" width="14.45" height="2.05" fill="rgb(0,182,0)"/>
<rect x="84.20" y="212.54" width="14.45" height="2.05" fill="rgb(28,247,28)"/>
<rect x="84.20" y="214.54" width="14.45" height="2.05" fill="rgb(6,203,6)"/>
<rect x="84.20" y="216.54" width="14.45" height="1.90" fill="rgb(0,140,0)"/>
<rect x="84.20" y="218.38" width="14.45" height="1.90" fill="rgb(8,206,8)"/>
<rect x="84.20" y="220.23" width="14.45" height="1.90" fill="rgb(28,247,28)"/>
<rect x="84.20" y="222.08" width="14.45" height="1.90" fill="rgb(25,240,25)"/>
<rect x="84.20" y="223.92" width="14.45" height="1.90" fill="rgb(1,193,1)"/>
<rect x="84.20" y="225.77" width="14.45" height="1.90" fill="rgb(0,75,0)"/>
<rect x="84.20" y="227.62" width="14.45" height="1.90" fill="rgb(0,101,0)"/>
<rect x="84.20" y="229.46" width="14.45" height="1.90" fill="rgb(0,129,0)"/>
<rect x="84.20" y="231.31" width="14.45" height="1.90" fill="rgb(0,136,0)"/>
<rect x="84.20" y="233.15" width="14.45" height="1.76" fill="rgb(0,81,0)"/>
<rect x="84.20" y="234.87" width="14.45" height="1.76" fill="rgb(0,80,0)"/>
<rect x="84.20" y="236.58" width="14.45" height="1.76" fill="rgb(0,104,0)"/>
<rect x="84.20" y="238.29" width="14.45" height="1.76" fill="rgb(0,94,0)"/>
<rect x="84.20" y="240.00" width="14.45" height="1.84" fill="rgb(0,104,0)"/>
<rect x="84.20" y="241.79" width="14.45" height="1.84" fill="rgb(0,147,0)"/>
<rect x="84.20" y="243.58" width="14.45" height="2.67" fill="rgb(7,204,7)"/>
<rect x="84.20" y="246.20" width="14.45" height="2.20" fill="rgb(0,43,0)"/>
<rect x="84.20" y="248.35" width="14.45" height="1.84" fill="rgb(0,73,0)"/>
<rect x="84.20" y="250.13" width="14.45" height="1.84" fill="rgb(0,99,0)"/>
<rect x="84.20" y="251.92" width="14.45" height="1.54" fill="rgb(0,88,0)"/>
<rect x="84.20" y="253.41" width="14.45" height="1.54" fill="rgb(0,121,0)"/>
<rect x="84.20" y="254.90" width="14.45" height="1.54" fill="rgb(4,28,0)"/>
<rect x="84.20" y="256.39" width="14.45" height="1.54" fill="rgb(5,27,0)"/>
<rect x="84.20" y="257.88" width="14.45" height="1.84" fill="rgb(8,19,0)"/>
<rect x="84.20" y="259.67" width="14.45" height="2.43" fill="rgb(1,192,1)"/>
<rect x="84.20" y="262.06" width="14.45" height="2.43" fill="rgb(9,17,0)"/>
<rect x="84.20" y="264.44" width="14.45" height="1.79" fill="rgb(0,149,0)"/>
<rect x="84.20" y="266.18" width="14.45" height="1.79" fill="rgb(0,176,0)"/>
<rect x="84.20" y="267.92" width="14.45" height="1.79" fill="rgb(0,156,0)"/>
<rect x="84.20" y="269.66" width="14.45" height="1.79" fill="rgb(0,147,0)"/>
<rect x="98.60" y="136.00" width="14.85" height="2.74" fill="rgb(0,92,0)"/>
<rect x="98.60" y="138.69" width="14.85" height="1.90" fill="rgb(0,103,0)"/>
<rect x="98.60" y="140.54" width="14.85" height="2.51" fill="rgb(0,85,0)"/>
<rect x="98.60" y="143.00" width="14.85" height="2.20" fill="rgb(0,152,0)"/>
<rect x="98.60" y="145.15" width="14.85" height="2.20" fill="rgb(0,152,0)"/>
<rect x="98.60" y="147.31" width="14.85" height="1.90" fill="rgb(0,117,0)"/>
<rect x="98.60" y="149.15" width="14.85" height="1.90" fill="rgb(0,71,0)"/>
<rect x="98.60" y="151.00" width="14.85" height="1.90" fill="rgb(0,77,0)"/>
<rect x="98.60" y="152.85" width="14.85" height="1.90" fill="rgb(0,67,0)"/>
<rect x="98.60" y="154.69" width="14.85" height="2.51" fill="rgb(0,100,0)"/>
<rect x="98.60" y="157.15" width="14.85" height="2.51" fill="rgb(0,47,0)"/>
<rect x="98.60" y="159.62" width="14.85" height="2.51" fill="rgb(9,17,0)"/>
<rect x="98.60" y="162.08" width="14.85" height="2.51" fill="rgb(0,78,0)"/>
<rect x="98.60" y="164.54" width="14.85" height="1.59" fill="rgb(0,158,0)"/>
<rect x="98.60" y="166.08" width="14.85" height="1.59" fill="rgb(0,148,0)"/>
<rect x="98.60" y="167.62" width="14.85" height="1.43" fill="rgb(0,170,0)"/>
<rect x="98.60" y="169.00" width="14.85" height="2.51" fill="rgb(0,182,0)"/>
<rect x="98.60" y="171.46" width="14.85" height="2.51" fill="rgb(0,170,0)"/>
<rect x="98.60" y="173.92" width="14.85" height="2.51" fill="rgb(0,90,0)"/>
<rect x="98.60" y="176.38" width="14.85" height="1.59" fill="rgb(0,76,0)"/>
<rect x="98.60" y="177.92" width="14.85" height="1.59" fill="rgb(0,66,0)"/>
<rect x="98.60" y="179.46" width="14.85" height="2.51" fill="rgb(0,106,0)"/>
<rect x="98.60" y="181.92" width="14.85" height="1.69" fill="rgb(0,54,0)"/>
<rect x="98.60" y="183.56" width="14.85" height="1.69" fill="rgb(0,46,0)"/>
<rect x="98.60" y="185.21" width="14.85" height="1.69" fill="rgb(0,48,0)"/>
<rect x="98.60" y="186.85" width="14.85" height="2.10" fill="rgb(3,31,0)"/>
<rect x="98.60" y="188.90" width="14.85" height="2.10" fill="rgb(2,34,0)"/>
<rect x="98.60" y="190.95" width="14.85" height="2.10" fill="rgb(5,27,0)"/>
<rect x="98.60" y="193.00" width="14.85" height="2.51" fill="rgb(9,208,9)"/>
<rect x="98.60" y="195.46" width="14.85" height="1.59" fill="rgb(0,115,0)"/>
<rect x="98.60" y="197.00" width="14.85" height="1.59" fill="rgb(0,112,0)"/>
<rect x="98.60" y="198.54" width="14.85" height="2.51" fill="rgb(0,56,0)"/>
<rect x="98.60" y="201.00" width="14.85" height="2.05" fill="rgb(0,72,0)"/>
<rect x="98.60" y="203.00" width="14.85" height="2.51" fill="rgb(0,72,0)"/>
<rect x="98.60" y="205.46" width="14.85" height="1.90" fill="rgb(9,16,0)"/>
<rect x="98.60" y="207.31" width="14.85" height="1.90" fill="rgb(9,16,0)"/>
<rect x="98.60" y="209.15" width="14.85" height="1.90" fill="rgb(7,21,0)"/>
<rect x="98.60" y="211.00" width="14.85" height="1.90" fill="rgb(9,17,0)"/>
<rect x="98.60" y="212.85" width="14.85" height="1.90" fill="rgb(9,16,0)"/>
<rect x="98.60" y="214.69" width="14.85" height="1.90" fill="rgb(9,16,0)"/>
<rect x="98.60" y="216.54" width="14.85" height="1.59" fill="rgb(0,87,0)"/>
<rect x="98.60" y="218.08" width="14.85" height="1.59" fill="rgb(0,88,0)"/>
<rect x="98.60" y="219.62" width="14.85" height="1.90" fill="rgb(0,51,0)"/>
<rect x="98.60" y="221.46" width="14.85" height="2.51" fill="rgb(0,88,0)"/>
<rect x="98.60" y="223.92" width="14.85" height="1.90" fill="rgb(0,61,0)"/>
<rect x="98.60" y="225.77" width="14.85" height="1.59" fill="rgb(9,17,0)"/>
<rect x="98.60" y="227.31" width="14.85" height="1.59" fill="rgb(8,19,0)"/>
<rect x="98.60" y="228.85" width="14.85" height="1.59" fill="rgb(0,109,0)"/>
<rect x="98.60" y="230.38" width="14.85" height="1.59" fill="rgb(0,123,0)"/>
<rect x="98.60" y="231.92" width="14.85" height="2.51" fill="rgb(0,52,0)"/>
<rect x="98.60" y="234.38" width="14.85" height="1.92" fill="rgb(0,160,0)"/>
<rect x="98.60" y="236.26" width="14.85" height="1.92" fill="rgb(0,160,0)"/>
<rect x="98.60" y="238.13" width="14.85" height="1.92" fill="rgb(0,138,0)"/>
<rect x="98.60" y="240.00" width="14.85" height="1.54" fill="rgb(0,174,0)"/>
<rect x="98.60" y="241.49" width="14.85" height="1.54" fill="rgb(19,229,19)"/>
<rect x="98.60" y="242.98" width="14.85" height="2.14" fill="rgb(0,152,0)"/>
<rect x="98.60" y="245.07" width="14.85" height="2.14" fill="rgb(0,155,0)"/>
<rect x="98.60" y="247.15" width="14.85" height="1.84" fill="rgb(0,117,0)"/>
<rect x="98.60" y="248.94" width="14.85" height="1.84" fill="rgb(0,138,0)"/>
<rect x="98.60" y="250.73" width="14.85" height="2.14" fill="rgb(17,225,17)"/>
<rect x="98.60" y="252.82" width="14.85" height="2.14" fill="rgb(19,228,19)"/>
<rect x="98.60" y="254.90" width="14.85" height="2.14" fill="rgb(5,201,5)"/>
<rect x="98.60" y="256.99" width="14.85" height="2.14" fill="rgb(19,228,19)"/>
<rect x="98.60" y="259.08" width="14.85" height="1.64" fill="rgb(0,191,0)"/>
<rect x="98.60" y="260.67" width="14.85" height="1.64" fill="rgb(12,215,12)"/>
<rect x="98.60" y="262.26" width="14.85" height="1.64" fill="rgb(4,199,4)"/>
<rect x="98.60" y="263.85" width="14.85" height="1.84" fill="rgb(0,177,0)"/>
<rect x="98.60" y="265.63" width="14.85" height="2.14" fill="rgb(0,167,0)"/>
<rect x="98.60" y="267.72" width="14.85" height="2.14" fill="rgb(0,165,0)"/>
<rect x="98.60" y="269.81" width="14.85" height="1.64" fill="rgb(0,134,0)"/>
<rect x="113.40" y="136.00" width="14.45" height="2.74" fill="rgb(0,112,0)"/>
<rect x="113.40" y="138.69" width="14.45" height="2.51" fill="rgb(0,150,0)"/>
<rect x="113.40" y="141.15" width="14.45" height="1.90" fill="rgb(0,98,0)"/>
<rect x="113.40" y="143.00" width="14.45" height="1.90" fill="rgb(0,138,0)"/>
<rect x="113.40" y="144.85" width="14.45" height="1.90" fill="rgb(0,102,0)"/>
<rect x="113.40" y="146.69" width="14.45" height="1.90" fill="rgb(0,105,0)"/>
<rect x="113.40" y="148.54" width="14.45" height="2.51" fill="rgb(0,122,0)"/>
<rect x="113.40" y="151.00" width="14.45" height="1.90" fill="rgb(0,176,0)"/>
<rect x="113.40" y="152.85" width="14.45" height="1.90" fill="rgb(0,171,0)"/>
<rect x="113.40" y="154.69" width="14.45" height="1.59" fill="rgb(0,138,0)"/>
<rect x="113.40" y="156.23" width="14.45" height="1.59" fill="rgb(0,100,0)"/>
<rect x="113.40" y="157.77" width="14.45" height="1.90" fill="rgb(0,158,0)"/>
<rect x="113.40" y="159.62" width="14.45" height="2.51" fill="rgb(0,92,0)"/>
<rect x="113.40" y="162.08" width="14.45" height="1.90" fill="rgb(0,103,0)"/>
<rect x="113.40" y="163.92" width="14.45" height="2.20" fill="rgb(20,230,20)"/>
<rect x="113.40" y="166.08" width="14.45" height="2.20" fill="rgb(22,234,22)"/>
<rect x="113.40" y="168.23" width="14.45" height="0.82" fill="rgb(0,173,0)"/>
<rect x="113.40" y="169.00" width="14.45" height="1.90" fill="rgb(0,180,0)"/>
<rect x="113.40" y="170.85" width="14.45" height="1.90" fill="rgb(0,185,0)"/>
<rect x="113.40" y="172.69" width="14.45" height="1.90" fill="rgb(4,199,4)"/>
<rect x="113.40" y="174.54" width="14.45" height="1.90" fill="rgb(22,234,22)"/>
<rect x="113.40" y="176.38" width="14.45" height="1.90" fill="rgb(21,233,21)"/>
<rect x="113.40" y="178.23" width="14.45" height="1.90" fill="rgb(30,250,30)"/>
<rect x="113.40" y="180.08" width="14.45" height="1.90" fill="rgb(30,250,30)"/>
<rect x="113.40" y="181.92" width="14.45" height="1.90" fill="rgb(30,250,30)"/>
<rect x="113.40" y="183.77" width="14.45" height="1.90" fill="rgb(25,240,25)"/>
<rect x="113.40" y="185.62" width="14.45" height="1.90" fill="rgb(30,250,30)"/>
<rect x="113.40" y="187.46" width="14.45" height="1.90" fill="rgb(0,187,0)"/>
<rect x="113.40" y="189.31" width="14.45" height="1.59" fill="rgb(24,239,24)"/>
<rect x="113.40" y="190.85" width="14.45" height="1.59" fill="rgb(4,199,4)"/>
<rect x="113.40" y="192.38" width="14.45" height="1.59" fill="rgb(0,142,0)"/>
<rect x="113.40" y="193.92" width="14.45" height="1.59" fill="rgb(0,149,0)"/>
<rect x="113.40" y="195.46" width="14.45" height="2.51" fill="rgb(5,201,5)"/>
<rect x="113.40" y="197.92" width="14.45" height="1.90" fill="rgb(0,98,0)"/>
<rect x="113.40" y="199.77" width="14.45" height="2.51" fill="rgb(30,250,30)"/>
<rect x="113.40" y="202.23" width="14.45" height="0.82" fill="rgb(0,168,0)"/>
<rect x="113.40" y="203.00" width="14.45" height="1.90" fill="rgb(24,239,24)"/>
<rect x="113.40" y="204.85" width="14.45" height="1.90" fill="rgb(24,239,24)"/>
<rect x="113.40" y="206.69" width="14.45" height="1.90" fill="rgb(27,244,27)"/>
<rect x="113.40" y="208.54" width="14.45" height="1.90" fill="rgb(18,226,18)"/>
<rect x="113.40" y="210.38" width="14.45" height="1.59" fill="rgb(0,132,0)"/>
<rect x="113.40" y="211.92" width="14.45" height="1.59" fill="rgb(0,184,0)"/>
<rect x="113.40" y="213.46" width="14.45" height="2.20" fill="rgb(0,159,0)"/>
<rect x="113.40" y="215.62" width="14.45" height="2.20" fill="rgb(0,145,0)"/>
<rect x="113.40" y="217.77" width="14.45" height="2.51" fill="rgb(0,78,0)"/>
<rect x="113.40" y="220.23" width="14.45" height="2.51" fill="rgb(0,51,0)"/>
<rect x="113.40" y="222.69" width="14.45" height="2.51" fill="rgb(0,56,0)"/>
<rect x="113.40" y="225.15" width="14.45" height="2.20" fill="rgb(0,52,0)"/>
<rect x="113.40" y="227.31" width="14.45" height="2.20" fill="rgb(0,43,0)"/>
<rect x="113.40" y="229.46" width="14.45" height="1.59" fill="rgb(9,16,0)"/>
<rect x="113.40" y="231.00" width="14.45" height="1.59" fill="rgb(9,17,0)"/>
<rect x="113.40" y="232.54" width="14.45" height="1.59" fill="rgb(0,74,0)"/>
<rect x="113.40" y="234.08" width="14.45" height="1.59" fill="rgb(0,60,0)"/>
<rect x="113.40" y="235.62" width="14.45" height="2.24" fill="rgb(0,53,0)"/>
<rect x="113.40" y="237.81" width="14.45" height="2.24" fill="rgb(0,57,0)"/>
<rect x="113.40" y="240.00" width="14.45" height="1.54" fill="rgb(0,58,0)"/>
<rect x="113.40" y="241.49" width="14.45" height="1.54" fill="rgb(0,55,0)"/>
<rect x="113.40" y="242.98" width="14.45" height="1.84" fill="rgb(0,38,0)"/>
<rect x="113.40" y="244.77" width="14.45" height="1.84" fill="rgb(0,41,0)"/>
<rect x="113.40" y="246.56" width="14.45" height="2.14" fill="rgb(7,21,0)"/>
<rect x="113.40" y="248.64" width="14.45" height="2.14" fill="rgb(8,20,0)"/>
<rect x="113.40" y="250.73" width="14.45" height="2.43" fill="rgb(0,153,0)"/>
<rect x="113.40" y="253.12" width="14.45" height="2.04" fill="rgb(0,161,0)"/>
<rect x="113.40" y="255.10" width="14.45" height="2.04" fill="rgb(0,167,0)"/>
<rect x="113.40" y="257.09" width="14.45" height="2.04" fill="rgb(0,175,0)"/>
<rect x="113.40" y="259.08" width="14.45" height="2.14" fill="rgb(0,42,0)"/>
<rect x="113.40" y="261.16" width="14.45" height="2.14" fill="rgb(2,35,0)"/>
<rect x="113.40" y="263.25" width="14.45" height="1.84" fill="rgb(0,149,0)"/>
<rect x="113.40" y="265.04" width="14.45" height="1.84" fill="rgb(0,117,0)"/>
<rect x="113.40" y="266.83" width="14.45" height="2.34" fill="rgb(3,32,0)"/>
<rect x="113.40" y="269.11" width="14.45" height="2.34" fill="rgb(2,35,0)"/>
<rect x="127.80" y="136.00" width="13.15" height="2.13" fill="rgb(0,113,0)"/>
<rect x="127.80" y="138.08" width="13.15" height="2.20" fill="rgb(0,177,0)"/>
<rect x="127.80" y="140.23" width="13.15" height="2.20" fill="rgb(0,176,0)"/>
<rect x="127.80" y="142.38" width="13.15" height="2.20" fill="rgb(0,133,0)"/>
<rect x="127.80" y="144.54" width="13.15" height="2.20" fill="rgb(0,146,0)"/>
<rect x="127.80" y="146.69" width="13.15" height="1.90" fill="rgb(10,210,10)"/>
<rect x="127.80" y="148.54" width="13.15" height="1.90" fill="rgb(10,210,10)"/>
<rect x="127.80" y="150.38" width="13.15" height="2.20" fill="rgb(0,90,0)"/>
<rect x="127.80" y="152.54" width="13.15" height="2.20" fill="rgb(0,123,0)"/>
<rect x="127.80" y="154.69" width="13.15" height="2.20" fill="rgb(0,162,0)"/>
<rect x="127.80" y="156.85" width="13.15" height="2.20" fill="rgb(14,218,14)"/>
<rect x="127.80" y="159.00" width="13.15" height="1.90" fill="rgb(0,147,0)"/>
<rect x="127.80" y="160.85" width="13.15" height="1.90" fill="rgb(0,47,0)"/>
<rect x="127.80" y="162.69" width="13.15" height="1.59" fill="rgb(0,181,0)"/>
<rect x="127.80" y="164.23" width="13.15" height="1.59" fill="rgb(8,207,8)"/>
<rect x="127.80" y="165.77" width="13.15" height="1.67" fill="rgb(30,250,30)"/>
<rect x="127.80" y="167.38" width="13.15" height="1.67" fill="rgb(19,228,19)"/>
<rect x="127.80" y="169.00" width="13.15" height="1.90" fill="rgb(13,216,13)"/>
<rect x="127.80" y="170.85" width="13.15" height="1.90" fill="rgb(10,210,10)"/>
<rect x="127.80" y="172.69" width="13.15" height="1.90" fill="rgb(18,227,18)"/>
<rect x="127.80" y="174.54" width="13.15" height="1.59" fill="rgb(0,111,0)"/>
<rect x="127.80" y="176.08" width="13.15" height="1.59" fill="rgb(0,130,0)"/>
<rect x="127.80" y="177.62" width="13.15" height="1.90" fill="rgb(0,175,0)"/>
<rect x="127.80" y="179.46" width="13.15" height="1.90" fill="rgb(7,205,7)"/>
<rect x="127.80" y="181.31" width="13.15" height="2.02" fill="rgb(30,250,30)"/>
<rect x="127.80" y="183.28" width="13.15" height="2.02" fill="rgb(2,195,2)"/>
<rect x="127.80" y="185.25" width="13.15" height="2.02" fill="rgb(30,250,30)"/>
<rect x="127.80" y="187.22" width="13.15" height="2.02" fill="rgb(19,228,19)"/>
<rect x="127.80" y="189.18" width="13.15" height="2.02" fill="rgb(30,250,30)"/>
<rect x="127.80" y="191.15" width="13.15" height="1.90" fill="rgb(0,188,0)"/>
<rect x="127.80" y="193.00" width="13.15" height="2.51" fill="rgb(0,104,0)"/>
<rect x="127.80" y="195.46" width="13.15" height="2.51" fill="rgb(17,224,17)"/>
<rect x="127.80" y="197.92" width="13.15" height="2.51" fill="rgb(0,144,0)"/>
<rect x="127.80" y="200.38" width="13.15" height="2.67" fill="rgb(0,157,0)"/>
<rect x="127.80" y="203.00" width="13.15" height="2.51" fill="rgb(0,117,0)"/>
<rect x="127.80" y="205.46" width="13.15" height="1.90" fill="rgb(0,87,0)"/>
<rect x="127.80" y="207.31" width="13.15" height="1.90" fill="rgb(0,85,0)"/>
<rect x="127.80" y="209.15" width="13.15" height="1.90" fill="rgb(0,98,0)"/>
<rect x="127.80" y="211.00" width="13.15" height="2.51" fill="rgb(0,141,0)"/>
<rect x="127.80" y="213.46" width="13.15" height="1.90" fill="rgb(0,136,0)"/>
<rect x="127.80" y="215.31" width="13.15" height="1.90" fill="rgb(0,135,0)"/>
<rect x="127.80" y="217.15" width="13.15" height="2.51" fill="rgb(0,109,0)"/>
<rect x="127.80" y="219.62" width="13.15" height="1.90" fill="rgb(0,46,0)"/>
<rect x="127.80" y="221.46" width="13.15" height="2.20" fill="rgb(0,149,0)"/>
<rect x="127.80" y="223.62" width="13.15" height="2.20" fill="rgb(0,153,0)"/>
<rect x="127.80" y="225.77" width="13.15" height="1.74" fill="rgb(0,189,0)"/>
<rect x="127.80" y="227.46" width="13.15" height="1.74" fill="rgb(30,250,30)"/>
<rect x="127.80" y="229.15" width="13.15" height="1.74" fill="rgb(25,241,25)"/>
<rect x="127.80" y="230.85" width="13.15" height="1.74" fill="rgb(30,250,30)"/>
<rect x="127.80" y="232.54" width="13.15" height="1.59" fill="rgb(0,62,0)"/>
<rect x="127.80" y="234.08" width="13.15" height="1.59" fill="rgb(0,64,0)"/>
<rect x="127.80" y="235.62" width="13.15" height="2.24" fill="rgb(0,46,0)"/>
<rect x="127.80" y="237.81" width="13.15" height="2.24" fill="rgb(0,57,0)"/>
<rect x="127.80" y="240.00" width="13.15" height="2.43" fill="rgb(0,100,0)"/>
<rect x="127.80" y="242.38" width="13.15" height="1.84" fill="rgb(0,64,0)"/>
<rect x="127.80" y="244.17" width="13.15" height="1.84" fill="rgb(0,65,0)"/>
<rect x="127.80" y="245.96" width="13.15" height="1.64" fill="rgb(0,106,0)"/>
<rect x="127.80" y="247.55" width="13.15" height="1.64" fill="rgb(0,95,0)"/>
<rect x="127.80" y="249.14" width="13.15" height="1.64" fill="rgb(0,98,0)"/>
<rect x="127.80" y="250.73" width="13.15" height="2.43" fill="rgb(0,98,0)"/>
<rect x="127.80" y="253.12" width="13.15" height="2.04" fill="rgb(5,26,0)"/>
<rect x="127.80" y="255.10" width="13.15" height="2.04" fill="rgb(2,34,0)"/>
<rect x="127.80" y="257.09" width="13.15" height="2.04" fill="rgb(5,26,0)"/>
<rect x="127.80" y="259.08" width="13.15" height="2.14" fill="rgb(0,167,0)"/>
<rect x="127.80" y="261.16" width="13.15" height="2.14" fill="rgb(0,185,0)"/>
<rect x="127.80" y="263.25" width="13.15" height="2.43" fill="rgb(0,93,0)"/>
<rect x="127.80" y="265.63" width="13.15" height="2.14" fill="rgb(12,9,0)"/>
<rect x="127.80" y="267.72" width="13.15" height="2.14" fill="rgb(11,11,0)"/>
<rect x="127.80" y="269.81" width="13.15" height="1.64" fill="rgb(7,22,0)"/>
</g>
<line x1="83.9" y1="136" x2="83.9" y2="271.4" stroke="#dccfa8" stroke-width="0.7" />
<line x1="142.2" y1="140.3" x2="145.4" y2="140.3" stroke="#3a3a3a" stroke-width="0.8" />
<text x="151" y="141.55" font-size="3.45" font-weight="bold" text-anchor="start" fill="#000"  stroke="#000" stroke-width="0.180">DOCK9</text>
<line x1="142.2" y1="145.2" x2="145.4" y2="145.2" stroke="#3a3a3a" stroke-width="0.8" />
<text x="151" y="146.45" font-size="3.45" font-weight="bold" text-anchor="start" fill="#000"  stroke="#000" stroke-width="0.180">LYN</text>
<line x1="142.2" y1="150.2" x2="145.4" y2="150.2" stroke="#3a3a3a" stroke-width="0.8" />
<text x="151" y="151.45" font-size="3.45" font-weight="bold" text-anchor="start" fill="#000"  stroke="#000" stroke-width="0.180">IGJ</text>
<line x1="142.2" y1="160.4" x2="145.4" y2="160.4" stroke="#3a3a3a" stroke-width="0.8" />
<text x="151" y="161.65" font-size="3.45" font-weight="bold" text-anchor="start" fill="#000"  stroke="#000" stroke-width="0.180">BACH1</text>
<line x1="142.2" y1="170.3" x2="145.4" y2="170.3" stroke="#3a3a3a" stroke-width="0.8" />
<text x="151" y="171.55" font-size="3.45" font-weight="bold" text-anchor="start" fill="#000"  stroke="#000" stroke-width="0.180">PTPN6(SHP1)</text>
<line x1="142.2" y1="180.3" x2="145.4" y2="180.3" stroke="#3a3a3a" stroke-width="0.8" />
<text x="151" y="181.55" font-size="3.45" font-weight="bold" text-anchor="start" fill="#000"  stroke="#000" stroke-width="0.180">SMAD5</text>
<line x1="142.2" y1="190.6" x2="145.4" y2="190.6" stroke="#3a3a3a" stroke-width="0.8" />
<text x="151" y="191.85" font-size="3.45" font-weight="bold" text-anchor="start" fill="#000"  stroke="#000" stroke-width="0.180">SMAD3</text>
<line x1="142.2" y1="205" x2="145.4" y2="205" stroke="#3a3a3a" stroke-width="0.8" />
<text x="151" y="206.25" font-size="3.45" font-weight="bold" text-anchor="start" fill="#000"  stroke="#000" stroke-width="0.180">HLA-DPA1</text>
<line x1="142.2" y1="210.2" x2="145.4" y2="210.2" stroke="#3a3a3a" stroke-width="0.8" />
<text x="151" y="211.45" font-size="3.45" font-weight="bold" text-anchor="start" fill="#000"  stroke="#000" stroke-width="0.180">TRAF5</text>
<line x1="142.2" y1="221.1" x2="145.4" y2="221.1" stroke="#3a3a3a" stroke-width="0.8" />
<text x="151" y="222.35" font-size="3.45" font-weight="bold" text-anchor="start" fill="#000"  stroke="#000" stroke-width="0.180">HLA-E</text>
<line x1="142.2" y1="225.7" x2="145.4" y2="225.7" stroke="#3a3a3a" stroke-width="0.8" />
<text x="151" y="226.95" font-size="3.45" font-weight="bold" text-anchor="start" fill="#000"  stroke="#000" stroke-width="0.180">HLA-DRA</text>
<line x1="142.2" y1="235.7" x2="145.4" y2="235.7" stroke="#3a3a3a" stroke-width="0.8" />
<text x="151" y="236.95" font-size="3.45" font-weight="bold" text-anchor="start" fill="#000"  stroke="#000" stroke-width="0.180">FAS</text>
<line x1="142.2" y1="241" x2="145.4" y2="241" stroke="#3a3a3a" stroke-width="0.8" />
<text x="151" y="242.25" font-size="3.45" font-weight="bold" text-anchor="start" fill="#000"  stroke="#000" stroke-width="0.180">PPAP2A</text>
<line x1="142.2" y1="251" x2="145.4" y2="251" stroke="#3a3a3a" stroke-width="0.8" />
<text x="151" y="252.25" font-size="3.45" font-weight="bold" text-anchor="start" fill="#000"  stroke="#000" stroke-width="0.180">CDKN1A(p21)</text>
<line x1="142.2" y1="261.4" x2="145.4" y2="261.4" stroke="#3a3a3a" stroke-width="0.8" />
<text x="151" y="262.65" font-size="3.45" font-weight="bold" text-anchor="start" fill="#000"  stroke="#000" stroke-width="0.180">ASPH(D2)</text>
<text transform="translate(59.2,306.5) rotate(-43)" font-size="5.8" font-weight="bold" text-anchor="start" fill="#000" stroke="#000" stroke-width="0.261" textLength="20.5" lengthAdjust="spacingAndGlyphs">Control</text>
<text transform="translate(63.4,308) rotate(-43)" font-size="5.8" font-weight="bold" text-anchor="start" fill="#000" stroke="#000" stroke-width="0.261" textLength="17.4" lengthAdjust="spacingAndGlyphs">Vector</text>
<text transform="translate(85,306.9) rotate(-40)" font-size="6" font-weight="bold" text-anchor="start" fill="#000" stroke="#000" stroke-width="0.270" textLength="23.6" lengthAdjust="spacingAndGlyphs">miR-155</text>
<g filter="url(#bb)">
<rect x="52" y="314" width="44.5" height="9.3" fill="#ababab"/>
<rect x="53.6" y="316.2" width="21.2" height="5.6" rx="2.6" fill="#222"/>
<rect x="78" y="317.6" width="16.8" height="2.8" rx="1.4" fill="#484848"/>
<rect x="52" y="325.2" width="44.5" height="10.5" fill="#a8a8a8"/>
<rect x="52" y="326.5" width="44.5" height="6.8" fill="#080808"/>
</g>
<polygon points="102,318.7 104.4,317.5 104.4,319.9" fill="#111"/>
<polygon points="102,330.4 104.4,329.2 104.4,331.6" fill="#111"/>
<text x="107.8" y="321" font-size="6.2" font-weight="bold" text-anchor="start" fill="#000" textLength="10.6" lengthAdjust="spacingAndGlyphs"  stroke="#000" stroke-width="0.217">P21</text>
<text x="107.8" y="332.7" font-size="6.4" font-weight="bold" text-anchor="start" fill="#000" textLength="24.2" lengthAdjust="spacingAndGlyphs"  stroke="#000" stroke-width="0.224">Tubulin</text>
<line x1="210.9" y1="1.2" x2="210.9" y2="47.0" stroke="#444" stroke-width="1.0" />
<line x1="210.5" y1="46.4" x2="287" y2="46.4" stroke="#3f6b55" stroke-width="1.2" />
<polygon points="243.8,46.6 245.3,42.5 279.5,42.5 281,46.6" fill="#1c2fd0"/>
<polygon points="239.35,46.60 239.35,45.64 239.69,45.09 240.03,44.30 240.36,43.20 240.70,41.71 241.04,39.77 241.38,37.34 241.71,34.39 242.05,30.97 242.39,27.17 242.72,23.13 243.06,19.06 243.40,15.21 243.74,11.85 244.07,9.24 244.41,7.57 244.75,7.00 245.09,7.57 245.42,9.24 245.76,11.85 246.10,15.21 246.44,19.06 246.78,23.13 247.11,27.17 247.45,30.97 247.79,34.39 248.12,37.34 248.46,39.77 248.80,41.71 249.14,43.20 249.47,44.30 249.81,45.09 250.15,45.64 250.15,46.60" fill="#e0221c"/>
<polygon points="276.80,46.60 276.80,46.46 277.11,46.38 277.43,46.27 277.74,46.11 278.05,45.90 278.36,45.62 278.68,45.28 278.99,44.86 279.30,44.38 279.61,43.84 279.93,43.27 280.24,42.70 280.55,42.16 280.86,41.68 281.18,41.31 281.49,41.08 281.80,41.00 282.11,41.08 282.43,41.31 282.74,41.68 283.05,42.16 283.36,42.70 283.68,43.27 283.99,43.84 284.30,44.38 284.61,44.86 284.93,45.28 285.24,45.62 285.55,45.90 285.86,46.11 286.18,46.27 286.49,46.38 286.80,46.46 286.80,46.60" fill="#e0221c"/>
<polygon points="246.3,46.6 247.3,42.7 278,42.7 279.5,46.6" fill="#1c2fd0"/>
<polyline points="249.00,42.40 256.00,42.20 266.00,42.10 275.00,42.00 277.50,40.60 280.00,39.20 283.00,39.80 285.50,43.00 287.00,46.00" fill="none" stroke="#444" stroke-width="0.35" stroke-linejoin="miter" />
<polygon points="244.25,48.2 246.25,48.2 245.25,46.800000000000004" fill="#111"/>
<polygon points="277.3,48.2 279.3,48.2 278.3,46.800000000000004" fill="#111"/>
<line x1="210.9" y1="50.2" x2="210.9" y2="102.4" stroke="#444" stroke-width="1.0" />
<line x1="210.5" y1="101.8" x2="289.5" y2="101.8" stroke="#3f6b55" stroke-width="1.2" />
<polygon points="244.8,102.0 246.3,95.4 284.7,95.4 286.2,102.0" fill="#1c2fd0"/>
<polygon points="241.00,102.00 241.00,101.35 241.40,100.91 241.80,100.23 242.20,99.23 242.60,97.80 243.00,95.84 243.40,93.26 243.80,90.01 244.20,86.08 244.60,81.57 245.00,76.63 245.40,71.53 245.80,66.60 246.20,62.23 246.60,58.78 247.00,56.56 247.40,55.80 247.80,56.56 248.20,58.78 248.60,62.23 249.00,66.60 249.40,71.53 249.80,76.63 250.20,81.57 250.60,86.08 251.00,90.01 251.40,93.26 251.80,95.84 252.20,97.80 252.60,99.23 253.00,100.23 253.40,100.91 253.80,101.35 253.80,102.00" fill="#e0221c"/>
<polygon points="279.20,102.00 279.20,101.94 279.55,101.89 279.90,101.81 280.25,101.69 280.60,101.51 280.95,101.26 281.30,100.92 281.65,100.48 282.00,99.93 282.35,99.28 282.70,98.56 283.05,97.80 283.40,97.06 283.75,96.39 284.10,95.86 284.45,95.52 284.80,95.40 285.15,95.52 285.50,95.86 285.85,96.39 286.20,97.06 286.55,97.80 286.90,98.56 287.25,99.28 287.60,99.93 287.95,100.48 288.30,100.92 288.65,101.26 289.00,101.51 289.35,101.69 289.70,101.81 290.05,101.89 290.40,101.94 290.40,102.00" fill="#e0221c"/>
<polygon points="247.3,102.0 248.3,95.60000000000001 283.2,95.60000000000001 284.7,102.0" fill="#1c2fd0"/>
<polyline points="249.00,84.60 250.40,88.00 251.60,90.70 254.20,94.60 262.00,95.00 270.00,95.00 275.50,94.80 277.50,93.40 279.30,92.30 281.90,93.10 283.60,95.00 287.10,99.20 289.70,101.50" fill="none" stroke="#444" stroke-width="0.35" stroke-linejoin="miter" />
<polygon points="246.9,103.6 248.9,103.6 247.9,102.2" fill="#111"/>
<polygon points="280.3,103.6 282.3,103.6 281.3,102.2" fill="#111"/>
<circle cx="207" cy="7.5" r="0.6" fill="#889"/>
<line x1="209.5" y1="7.5" x2="210.5" y2="7.5" stroke="#777" stroke-width="0.4" />
<circle cx="207" cy="17.5" r="0.6" fill="#889"/>
<line x1="209.5" y1="17.5" x2="210.5" y2="17.5" stroke="#777" stroke-width="0.4" />
<circle cx="207" cy="28" r="0.6" fill="#889"/>
<line x1="209.5" y1="28" x2="210.5" y2="28" stroke="#777" stroke-width="0.4" />
<circle cx="207" cy="37.5" r="0.6" fill="#889"/>
<line x1="209.5" y1="37.5" x2="210.5" y2="37.5" stroke="#777" stroke-width="0.4" />
<circle cx="207" cy="60" r="0.6" fill="#889"/>
<line x1="209.5" y1="60" x2="210.5" y2="60" stroke="#777" stroke-width="0.4" />
<circle cx="207" cy="70" r="0.6" fill="#889"/>
<line x1="209.5" y1="70" x2="210.5" y2="70" stroke="#777" stroke-width="0.4" />
<circle cx="207" cy="81" r="0.6" fill="#889"/>
<line x1="209.5" y1="81" x2="210.5" y2="81" stroke="#777" stroke-width="0.4" />
<circle cx="207" cy="91.5" r="0.6" fill="#889"/>
<line x1="209.5" y1="91.5" x2="210.5" y2="91.5" stroke="#777" stroke-width="0.4" />
<circle cx="230" cy="48.6" r="0.6" fill="#889"/>
<circle cx="248" cy="48.6" r="0.6" fill="#889"/>
<circle cx="267.5" cy="48.6" r="0.6" fill="#889"/>
<circle cx="286" cy="48.6" r="0.6" fill="#889"/>
<circle cx="212" cy="104.6" r="0.6" fill="#99a"/>
<circle cx="231" cy="104.6" r="0.6" fill="#99a"/>
<circle cx="252" cy="104.6" r="0.6" fill="#99a"/>
<circle cx="272.5" cy="104.6" r="0.6" fill="#99a"/>
<circle cx="288" cy="104.6" r="0.6" fill="#99a"/>
<text x="225" y="5.9" font-size="5.5" font-weight="bold" text-anchor="start" fill="#000" textLength="27.6" lengthAdjust="spacingAndGlyphs"  stroke="#000" stroke-width="0.220">G1:37.28%</text>
<text x="215.3" y="33.3" font-size="5" font-weight="normal" text-anchor="start" fill="#111" textLength="16.3" lengthAdjust="spacingAndGlyphs"  stroke="#111" stroke-width="0.320">Control</text>
<text x="213.7" y="40.2" font-size="5" font-weight="normal" text-anchor="start" fill="#111" textLength="15.2" lengthAdjust="spacingAndGlyphs"  stroke="#111" stroke-width="0.320">Vector</text>
<text x="252.6" y="38.4" font-size="5.2" font-weight="bold" text-anchor="start" fill="#000" textLength="24.8" lengthAdjust="spacingAndGlyphs"  stroke="#000" stroke-width="0.200">S: 51.37%</text>
<text x="281.3" y="40.7" font-size="4.8" font-weight="bold" text-anchor="start" fill="#000" textLength="25.5" lengthAdjust="spacingAndGlyphs"  stroke="#000" stroke-width="0.200">G2: 11.37%</text>
<text x="225" y="66.4" font-size="5.5" font-weight="bold" text-anchor="start" fill="#000" textLength="27.8" lengthAdjust="spacingAndGlyphs"  stroke="#000" stroke-width="0.220">G1:29.69%</text>
<text x="215.3" y="96.5" font-size="5.4" font-weight="normal" text-anchor="start" fill="#000" textLength="18.8" lengthAdjust="spacingAndGlyphs"  stroke="#000" stroke-width="0.340">miR155</text>
<text x="255.4" y="94.6" font-size="5.3" font-weight="bold" text-anchor="start" fill="#000" textLength="20.3" lengthAdjust="spacingAndGlyphs"  stroke="#000" stroke-width="0.200">S: 58.46</text>
<text x="286.7" y="95.6" font-size="4.8" font-weight="bold" text-anchor="start" fill="#000" textLength="25.7" lengthAdjust="spacingAndGlyphs"  stroke="#000" stroke-width="0.200">G2: 11.89%</text>
<line x1="215.3" y1="125.5" x2="215.3" y2="180.2" stroke="#888" stroke-width="0.6" />
<line x1="215" y1="180" x2="308.5" y2="180" stroke="#888" stroke-width="0.6" />
<text x="212" y="132.4" font-size="4" font-weight="bold" text-anchor="end" fill="#222"  stroke="#222" stroke-width="0.140">100</text>
<line x1="214.3" y1="131" x2="215.3" y2="131" stroke="#888" stroke-width="0.4" />
<text x="212" y="142.15" font-size="4" font-weight="bold" text-anchor="end" fill="#222"  stroke="#222" stroke-width="0.140">80</text>
<line x1="214.3" y1="140.75" x2="215.3" y2="140.75" stroke="#888" stroke-width="0.4" />
<text x="212" y="151.9" font-size="4" font-weight="bold" text-anchor="end" fill="#222"  stroke="#222" stroke-width="0.140">60</text>
<line x1="214.3" y1="150.5" x2="215.3" y2="150.5" stroke="#888" stroke-width="0.4" />
<text x="212" y="161.65" font-size="4" font-weight="bold" text-anchor="end" fill="#222"  stroke="#222" stroke-width="0.140">40</text>
<line x1="214.3" y1="160.25" x2="215.3" y2="160.25" stroke="#888" stroke-width="0.4" />
<text x="212" y="171.4" font-size="4" font-weight="bold" text-anchor="end" fill="#222"  stroke="#222" stroke-width="0.140">20</text>
<line x1="214.3" y1="170" x2="215.3" y2="170" stroke="#888" stroke-width="0.4" />
<text x="212" y="181.4" font-size="4" font-weight="bold" text-anchor="end" fill="#222"  stroke="#222" stroke-width="0.140">0</text>
<line x1="214.3" y1="180" x2="215.3" y2="180" stroke="#888" stroke-width="0.4" />
<rect x="217.25" y="131" width="8.75" height="49" fill="#555"/>
<rect x="227.25" y="131" width="8.75" height="49" fill="#aaa"/>
<rect x="240.5" y="142.5" width="9.25" height="37.5" fill="#555"/>
<rect x="251" y="142" width="8.75" height="38" fill="#aaa"/>
<rect x="264" y="137" width="9" height="43" fill="#555"/>
<rect x="274.25" y="136" width="9.25" height="44" fill="#aaa"/>
<rect x="287.75" y="142.5" width="9.0" height="37.5" fill="#555"/>
<rect x="298" y="159" width="9.25" height="21" fill="#aaa"/>
<line x1="221.625" y1="130.7" x2="221.625" y2="131.3" stroke="#333" stroke-width="0.4" />
<line x1="220.825" y1="130.7" x2="222.425" y2="130.7" stroke="#333" stroke-width="0.4" />
<line x1="231.625" y1="130.5" x2="231.625" y2="131.5" stroke="#333" stroke-width="0.4" />
<line x1="230.825" y1="130.5" x2="232.425" y2="130.5" stroke="#333" stroke-width="0.4" />
<line x1="245.125" y1="142.0" x2="245.125" y2="143.0" stroke="#333" stroke-width="0.4" />
<line x1="244.325" y1="142.0" x2="245.925" y2="142.0" stroke="#333" stroke-width="0.4" />
<line x1="255.375" y1="141.4" x2="255.375" y2="142.6" stroke="#333" stroke-width="0.4" />
<line x1="254.575" y1="141.4" x2="256.175" y2="141.4" stroke="#333" stroke-width="0.4" />
<line x1="268.5" y1="136.6" x2="268.5" y2="137.4" stroke="#333" stroke-width="0.4" />
<line x1="267.7" y1="136.6" x2="269.3" y2="136.6" stroke="#333" stroke-width="0.4" />
<line x1="278.875" y1="135.4" x2="278.875" y2="136.6" stroke="#333" stroke-width="0.4" />
<line x1="278.075" y1="135.4" x2="279.675" y2="135.4" stroke="#333" stroke-width="0.4" />
<line x1="292.25" y1="140.7" x2="292.25" y2="144.3" stroke="#333" stroke-width="0.4" />
<line x1="291.45" y1="140.7" x2="293.05" y2="140.7" stroke="#333" stroke-width="0.4" />
<line x1="302.625" y1="157.4" x2="302.625" y2="160.6" stroke="#333" stroke-width="0.4" />
<line x1="301.825" y1="157.4" x2="303.425" y2="157.4" stroke="#333" stroke-width="0.4" />
<rect x="287.3" y="126.6" width="15" height="2" fill="#555"/>
<rect x="287.3" y="131.2" width="15" height="2" fill="#aaa"/>
<text x="304.2" y="128.8" font-size="3.3" font-weight="normal" text-anchor="start" fill="#555"  stroke="#555" stroke-width="0.148">GFP</text>
<text x="304.2" y="133.4" font-size="3.3" font-weight="normal" text-anchor="start" fill="#555"  stroke="#555" stroke-width="0.148">miR155</text>
<text x="227.25" y="187.6" font-size="4" font-weight="bold" text-anchor="middle" fill="#222"  stroke="#222" stroke-width="0.140">Vehicle</text>
<text x="250.25" y="187.6" font-size="4" font-weight="bold" text-anchor="middle" fill="#222"  stroke="#222" stroke-width="0.140">Doxorubicin</text>
<text x="250.25" y="193.8" font-size="4" font-weight="bold" text-anchor="middle" fill="#222"  stroke="#222" stroke-width="0.140">(250nM)</text>
<text x="273.5" y="187.6" font-size="4" font-weight="bold" text-anchor="middle" fill="#222"  stroke="#222" stroke-width="0.140">LY294002</text>
<text x="273.5" y="193.8" font-size="4" font-weight="bold" text-anchor="middle" fill="#222"  stroke="#222" stroke-width="0.140">(2.8µM)</text>
<text x="297.75" y="187.6" font-size="4" font-weight="bold" text-anchor="middle" fill="#222"  stroke="#222" stroke-width="0.140">AM IV</text>
<text x="297.75" y="193.8" font-size="4" font-weight="bold" text-anchor="middle" fill="#222"  stroke="#222" stroke-width="0.140">(556nM)</text>
<text transform="translate(201.8,153.8) rotate(-90)" font-size="4.1" font-weight="bold" text-anchor="middle" fill="#222" stroke="#222" stroke-width="0.184">Viability (%)</text>
<line x1="360.6" y1="12.3" x2="360.6" y2="67.9" stroke="#111" stroke-width="1" />
<line x1="360.1" y1="67.4" x2="513" y2="67.4" stroke="#111" stroke-width="1" />
<text x="359.90000000000003" y="17.4" font-size="5.3" font-weight="normal" text-anchor="end" fill="#111"  stroke="#111" stroke-width="0.238">1.00</text>
<text x="359.90000000000003" y="30.0" font-size="5.3" font-weight="normal" text-anchor="end" fill="#111"  stroke="#111" stroke-width="0.238">0.75</text>
<text x="359.90000000000003" y="43.099999999999994" font-size="5.3" font-weight="normal" text-anchor="end" fill="#111"  stroke="#111" stroke-width="0.238">0.50</text>
<text x="359.90000000000003" y="55.9" font-size="5.3" font-weight="normal" text-anchor="end" fill="#111"  stroke="#111" stroke-width="0.238">0.25</text>
<text x="359.90000000000003" y="68.8" font-size="5.3" font-weight="normal" text-anchor="end" fill="#111"  stroke="#111" stroke-width="0.238">0.00</text>
<text x="361.8" y="77.60000000000001" font-size="4.9" font-weight="normal" text-anchor="middle" fill="#111"  stroke="#111" stroke-width="0.221">0</text>
<line x1="361.8" y1="67.4" x2="361.8" y2="69.0" stroke="#111" stroke-width="0.6" />
<text x="386.6" y="77.60000000000001" font-size="4.9" font-weight="normal" text-anchor="middle" fill="#111"  stroke="#111" stroke-width="0.221">2</text>
<line x1="386.6" y1="67.4" x2="386.6" y2="69.0" stroke="#111" stroke-width="0.6" />
<text x="412.2" y="77.60000000000001" font-size="4.9" font-weight="normal" text-anchor="middle" fill="#111"  stroke="#111" stroke-width="0.221">4</text>
<line x1="412.2" y1="67.4" x2="412.2" y2="69.0" stroke="#111" stroke-width="0.6" />
<text x="437.8" y="77.60000000000001" font-size="4.9" font-weight="normal" text-anchor="middle" fill="#111"  stroke="#111" stroke-width="0.221">6</text>
<line x1="437.8" y1="67.4" x2="437.8" y2="69.0" stroke="#111" stroke-width="0.6" />
<text x="462.6" y="77.60000000000001" font-size="4.9" font-weight="normal" text-anchor="middle" fill="#111"  stroke="#111" stroke-width="0.221">8</text>
<line x1="462.6" y1="67.4" x2="462.6" y2="69.0" stroke="#111" stroke-width="0.6" />
<text x="487.8" y="77.60000000000001" font-size="4.9" font-weight="normal" text-anchor="middle" fill="#111"  stroke="#111" stroke-width="0.221">10</text>
<line x1="487.8" y1="67.4" x2="487.8" y2="69.0" stroke="#111" stroke-width="0.6" />
<text x="512.7" y="77.60000000000001" font-size="4.9" font-weight="normal" text-anchor="middle" fill="#111"  stroke="#111" stroke-width="0.221">12</text>
<line x1="512.7" y1="67.4" x2="512.7" y2="69.0" stroke="#111" stroke-width="0.6" />
<text x="369" y="8.2" font-size="6.9" font-weight="normal" text-anchor="start" fill="#000" textLength="58" lengthAdjust="spacingAndGlyphs"  stroke="#000" stroke-width="0.300">DLBCL (P=0.0008)</text>
<text transform="translate(344.7,41) rotate(-90)" font-size="5.5" font-weight="bold" text-anchor="middle" fill="#000" stroke="#000" stroke-width="0.247" textLength="44" lengthAdjust="spacingAndGlyphs">EFS (proportion)</text>
<line x1="363.6" y1="118" x2="363.6" y2="171.0" stroke="#111" stroke-width="1" />
<line x1="363.1" y1="170.5" x2="508" y2="170.5" stroke="#111" stroke-width="1" />
<text x="362.90000000000003" y="122.8" font-size="5.3" font-weight="normal" text-anchor="end" fill="#111"  stroke="#111" stroke-width="0.238">1.00</text>
<text x="362.90000000000003" y="135.20000000000002" font-size="5.3" font-weight="normal" text-anchor="end" fill="#111"  stroke="#111" stroke-width="0.238">0.75</text>
<text x="362.90000000000003" y="147.8" font-size="5.3" font-weight="normal" text-anchor="end" fill="#111"  stroke="#111" stroke-width="0.238">0.50</text>
<text x="362.90000000000003" y="159.8" font-size="5.3" font-weight="normal" text-anchor="end" fill="#111"  stroke="#111" stroke-width="0.238">0.25</text>
<text x="362.90000000000003" y="171.8" font-size="5.3" font-weight="normal" text-anchor="end" fill="#111"  stroke="#111" stroke-width="0.238">0.00</text>
<text x="364" y="179.29999999999998" font-size="4.9" font-weight="normal" text-anchor="middle" fill="#111"  stroke="#111" stroke-width="0.221">0</text>
<line x1="364" y1="170.5" x2="364" y2="172.1" stroke="#111" stroke-width="0.6" />
<text x="384" y="179.29999999999998" font-size="4.9" font-weight="normal" text-anchor="middle" fill="#111"  stroke="#111" stroke-width="0.221">1</text>
<line x1="384" y1="170.5" x2="384" y2="172.1" stroke="#111" stroke-width="0.6" />
<text x="405" y="179.29999999999998" font-size="4.9" font-weight="normal" text-anchor="middle" fill="#111"  stroke="#111" stroke-width="0.221">2</text>
<line x1="405" y1="170.5" x2="405" y2="172.1" stroke="#111" stroke-width="0.6" />
<text x="425" y="179.29999999999998" font-size="4.9" font-weight="normal" text-anchor="middle" fill="#111"  stroke="#111" stroke-width="0.221">3</text>
<line x1="425" y1="170.5" x2="425" y2="172.1" stroke="#111" stroke-width="0.6" />
<text x="445.8" y="179.29999999999998" font-size="4.9" font-weight="normal" text-anchor="middle" fill="#111"  stroke="#111" stroke-width="0.221">4</text>
<line x1="445.8" y1="170.5" x2="445.8" y2="172.1" stroke="#111" stroke-width="0.6" />
<text x="466" y="179.29999999999998" font-size="4.9" font-weight="normal" text-anchor="middle" fill="#111"  stroke="#111" stroke-width="0.221">5</text>
<line x1="466" y1="170.5" x2="466" y2="172.1" stroke="#111" stroke-width="0.6" />
<text x="486.4" y="179.29999999999998" font-size="4.9" font-weight="normal" text-anchor="middle" fill="#111"  stroke="#111" stroke-width="0.221">6</text>
<line x1="486.4" y1="170.5" x2="486.4" y2="172.1" stroke="#111" stroke-width="0.6" />
<text x="506.8" y="179.29999999999998" font-size="4.9" font-weight="normal" text-anchor="middle" fill="#111"  stroke="#111" stroke-width="0.221">7</text>
<line x1="506.8" y1="170.5" x2="506.8" y2="172.1" stroke="#111" stroke-width="0.6" />
<text x="370" y="116.6" font-size="6.9" font-weight="normal" text-anchor="start" fill="#000" textLength="67.6" lengthAdjust="spacingAndGlyphs"  stroke="#000" stroke-width="0.300">ABC-DLBCL (P=0.04)</text>
<text transform="translate(344.8,147) rotate(-90)" font-size="5.5" font-weight="bold" text-anchor="middle" fill="#000" stroke="#000" stroke-width="0.247" textLength="44" lengthAdjust="spacingAndGlyphs">EFS (proportion)</text>
<line x1="360.4" y1="222" x2="360.4" y2="282.4" stroke="#111" stroke-width="1" />
<line x1="359.9" y1="281.9" x2="507" y2="281.9" stroke="#111" stroke-width="1" />
<text x="359.7" y="227.10000000000002" font-size="5.3" font-weight="normal" text-anchor="end" fill="#111"  stroke="#111" stroke-width="0.238">1.00</text>
<text x="359.7" y="241.0" font-size="5.3" font-weight="normal" text-anchor="end" fill="#111"  stroke="#111" stroke-width="0.238">0.75</text>
<text x="359.7" y="254.9" font-size="5.3" font-weight="normal" text-anchor="end" fill="#111"  stroke="#111" stroke-width="0.238">0.50</text>
<text x="359.7" y="268.8" font-size="5.3" font-weight="normal" text-anchor="end" fill="#111"  stroke="#111" stroke-width="0.238">0.25</text>
<text x="359.7" y="282.40000000000003" font-size="5.3" font-weight="normal" text-anchor="end" fill="#111"  stroke="#111" stroke-width="0.238">0.00</text>
<text x="361.8" y="290.3" font-size="4.9" font-weight="normal" text-anchor="middle" fill="#111"  stroke="#111" stroke-width="0.221">0</text>
<line x1="361.8" y1="281.9" x2="361.8" y2="283.5" stroke="#111" stroke-width="0.6" />
<text x="385.5" y="290.3" font-size="4.9" font-weight="normal" text-anchor="middle" fill="#111"  stroke="#111" stroke-width="0.221">2</text>
<line x1="385.5" y1="281.9" x2="385.5" y2="283.5" stroke="#111" stroke-width="0.6" />
<text x="410.4" y="290.3" font-size="4.9" font-weight="normal" text-anchor="middle" fill="#111"  stroke="#111" stroke-width="0.221">4</text>
<line x1="410.4" y1="281.9" x2="410.4" y2="283.5" stroke="#111" stroke-width="0.6" />
<text x="433.4" y="290.3" font-size="4.9" font-weight="normal" text-anchor="middle" fill="#111"  stroke="#111" stroke-width="0.221">6</text>
<line x1="433.4" y1="281.9" x2="433.4" y2="283.5" stroke="#111" stroke-width="0.6" />
<text x="457" y="290.3" font-size="4.9" font-weight="normal" text-anchor="middle" fill="#111"  stroke="#111" stroke-width="0.221">8</text>
<line x1="457" y1="281.9" x2="457" y2="283.5" stroke="#111" stroke-width="0.6" />
<text x="481.6" y="290.3" font-size="4.9" font-weight="normal" text-anchor="middle" fill="#111"  stroke="#111" stroke-width="0.221">10</text>
<line x1="481.6" y1="281.9" x2="481.6" y2="283.5" stroke="#111" stroke-width="0.6" />
<text x="506" y="290.3" font-size="4.9" font-weight="normal" text-anchor="middle" fill="#111"  stroke="#111" stroke-width="0.221">12</text>
<line x1="506" y1="281.9" x2="506" y2="283.5" stroke="#111" stroke-width="0.6" />
<text x="376" y="221.6" font-size="6.9" font-weight="normal" text-anchor="start" fill="#000" textLength="64" lengthAdjust="spacingAndGlyphs"  stroke="#000" stroke-width="0.300">GCB-DLBCL (P=0.7)</text>
<text transform="translate(340.8,250) rotate(-90)" font-size="5.5" font-weight="bold" text-anchor="middle" fill="#000" stroke="#000" stroke-width="0.247" textLength="44" lengthAdjust="spacingAndGlyphs">EFS (proportion)</text>
<text x="413.8" y="88.7" font-size="6.9" font-weight="bold" text-anchor="start" fill="#000" textLength="18.5" lengthAdjust="spacingAndGlyphs"  stroke="#000" stroke-width="0.242">Years</text>
<line x1="434.7" y1="86.4" x2="448" y2="86.4" stroke="#111" stroke-width="1.0" />
<polygon points="451.3,86.4 447.2,84.5 447.2,88.30000000000001" fill="#111"/>
<text x="410.5" y="185.70000000000002" font-size="6.9" font-weight="bold" text-anchor="start" fill="#000" textLength="18.5" lengthAdjust="spacingAndGlyphs"  stroke="#000" stroke-width="0.242">Years</text>
<line x1="432.8" y1="183.4" x2="448" y2="183.4" stroke="#111" stroke-width="1.0" />
<polygon points="451.3,183.4 447.2,181.5 447.2,185.3" fill="#111"/>
<text x="410.7" y="298.90000000000003" font-size="6.9" font-weight="bold" text-anchor="start" fill="#000" textLength="18.5" lengthAdjust="spacingAndGlyphs"  stroke="#000" stroke-width="0.242">Years</text>
<line x1="434" y1="296.6" x2="448" y2="296.6" stroke="#111" stroke-width="1.0" />
<polygon points="451.3,296.6 447.2,294.70000000000005 447.2,298.5" fill="#111"/>
<polyline points="360.40,15.00 361.50,15.00 361.50,18.00 362.50,18.00 362.50,20.50 364.00,20.50 364.00,23.00 365.50,23.00 365.50,25.50 368.00,25.50 368.00,29.00 370.00,29.00 370.00,31.50 371.50,31.50 371.50,33.25 373.00,33.25 373.00,35.00 374.50,35.00 374.50,35.80 376.00,35.80 376.00,36.60 378.00,36.60 378.00,37.30 380.00,37.30 380.00,38.00 382.00,38.00 382.00,38.70 384.00,38.70 384.00,39.40 386.00,39.40 386.00,40.00 388.00,40.00 388.00,40.60 390.50,40.60 390.50,41.00 393.00,41.00 393.00,41.40 395.50,41.40 395.50,41.70 398.00,41.70 398.00,42.00 400.00,42.00 400.00,42.33 402.00,42.33 402.00,42.67 404.00,42.67 404.00,43.00 406.00,43.00 406.00,43.47 408.00,43.47 408.00,43.93 410.00,43.93 410.00,44.40 442.60,44.40 442.60,51.40 462.00,51.40" fill="none" stroke="#2422b8" stroke-width="1.25" stroke-linejoin="miter" />
<polyline points="360.40,15.00 362.50,15.00 362.50,17.50 365.00,17.50 365.00,20.00 367.50,20.00 367.50,22.60 370.00,22.60 370.00,25.00 372.00,25.00 372.00,26.40 374.00,26.40 374.00,27.80 376.00,27.80 376.00,28.90 378.00,28.90 378.00,30.00 380.50,30.00 380.50,30.80 383.00,30.80 383.00,31.60 385.50,31.60 385.50,32.30 388.00,32.30 388.00,33.00 390.50,33.00 390.50,33.70 393.00,33.70 393.00,34.40 395.50,34.40 395.50,35.00 398.00,35.00 398.00,35.60 400.00,35.60 400.00,35.87 402.00,35.87 402.00,36.13 404.00,36.13 404.00,36.40 406.00,36.40 406.00,36.67 408.00,36.67 408.00,36.93 410.00,36.93 410.00,37.20 412.59,37.20 412.59,37.21 415.18,37.21 415.18,37.22 417.76,37.22 417.76,37.24 420.35,37.24 420.35,37.25 422.94,37.25 422.94,37.26 425.53,37.26 425.53,37.27 428.12,37.27 428.12,37.28 430.71,37.28 430.71,37.29 433.29,37.29 433.29,37.31 435.88,37.31 435.88,37.32 438.47,37.32 438.47,37.33 441.06,37.33 441.06,37.34 443.65,37.34 443.65,37.35 446.24,37.35 446.24,37.36 448.82,37.36 448.82,37.38 451.41,37.38 451.41,37.39 454.00,37.39 454.00,37.40" fill="none" stroke="#b81828" stroke-width="1.25" stroke-linejoin="miter" />
<polyline points="360.40,15.00 361.70,15.00 361.70,15.70 363.00,15.70 363.00,16.40 364.50,16.40 364.50,17.20 366.00,17.20 366.00,18.00 368.00,18.00 368.00,19.30 370.00,19.30 370.00,20.60 372.00,20.60 372.00,21.80 374.00,21.80 374.00,23.00 376.00,23.00 376.00,23.75 378.00,23.75 378.00,24.50 380.00,24.50 380.00,25.05 382.00,25.05 382.00,25.60 384.50,25.60 384.50,26.10 387.00,26.10 387.00,26.60 389.50,26.60 389.50,27.00 392.00,27.00 392.00,27.40 394.00,27.40 394.00,27.50 396.00,27.50 396.00,27.60 398.00,27.60 398.00,27.70 400.00,27.70 400.00,27.80 440.00,27.80 440.00,28.10 455.60,28.10" fill="none" stroke="#1f6e50" stroke-width="1.25" stroke-linejoin="miter" />
<polyline points="360.40,15.00 361.70,15.00 361.70,15.80 363.00,15.80 363.00,16.60 364.50,16.60 364.50,17.45 366.00,17.45 366.00,18.30 368.00,18.30 368.00,19.60 370.00,19.60 370.00,20.90 372.00,20.90 372.00,22.10 374.00,22.10 374.00,23.30 376.00,23.30 376.00,24.05 378.00,24.05 378.00,24.80 380.00,24.80 380.00,25.35 382.00,25.35 382.00,25.90 384.50,25.90 384.50,26.40 387.00,26.40 387.00,26.90 389.50,26.90 389.50,27.30 392.00,27.30 392.00,27.70 394.00,27.70 394.00,27.73 396.00,27.73 396.00,27.75 398.00,27.75 398.00,27.77 400.00,27.77 400.00,27.80 440.00,27.80 440.00,33.00 504.00,33.00" fill="none" stroke="#4a3808" stroke-width="1.25" stroke-linejoin="miter" />
<circle cx="400" cy="27.7" r="0.6" fill="#222"/>
<circle cx="404" cy="27.7" r="0.6" fill="#222"/>
<circle cx="408" cy="27.7" r="0.6" fill="#222"/>
<circle cx="412" cy="27.7" r="0.6" fill="#222"/>
<circle cx="416" cy="27.7" r="0.6" fill="#222"/>
<circle cx="420" cy="27.7" r="0.6" fill="#222"/>
<circle cx="424" cy="27.7" r="0.6" fill="#222"/>
<circle cx="428" cy="27.7" r="0.6" fill="#222"/>
<circle cx="432" cy="27.7" r="0.6" fill="#222"/>
<circle cx="436" cy="27.7" r="0.6" fill="#222"/>
<circle cx="412" cy="37.4" r="0.6" fill="#700"/>
<circle cx="416" cy="37.4" r="0.6" fill="#700"/>
<circle cx="420" cy="37.4" r="0.6" fill="#700"/>
<circle cx="424" cy="37.4" r="0.6" fill="#700"/>
<circle cx="428" cy="37.4" r="0.6" fill="#700"/>
<circle cx="432" cy="37.4" r="0.6" fill="#700"/>
<circle cx="436" cy="37.4" r="0.6" fill="#700"/>
<circle cx="440" cy="37.4" r="0.6" fill="#700"/>
<circle cx="444" cy="37.4" r="0.6" fill="#700"/>
<circle cx="448" cy="37.4" r="0.6" fill="#700"/>
<circle cx="452" cy="37.4" r="0.6" fill="#700"/>
<circle cx="418" cy="44.4" r="0.6" fill="#118"/>
<circle cx="423" cy="44.4" r="0.6" fill="#118"/>
<circle cx="428" cy="44.4" r="0.6" fill="#118"/>
<circle cx="447" cy="51.4" r="0.6" fill="#118"/>
<circle cx="456" cy="51.4" r="0.6" fill="#118"/>
<rect x="478.2" y="8.600000000000001" width="21.5" height="3.4" fill="#1e2ac8"/>
<rect x="478.2" y="13.4" width="21.5" height="3.4" fill="#8a3832"/>
<rect x="478.2" y="19.1" width="21.5" height="3.4" fill="#ae6a3a"/>
<rect x="478.2" y="24.2" width="21.5" height="3.4" fill="#22ae62"/>
<text x="502.3" y="12.1" font-size="5.6" font-weight="bold" text-anchor="start" fill="#000"  stroke="#000" stroke-width="0.196">1</text>
<text x="502.3" y="17.1" font-size="5.6" font-weight="bold" text-anchor="start" fill="#000"  stroke="#000" stroke-width="0.196">2</text>
<text x="502.3" y="22.8" font-size="5.6" font-weight="bold" text-anchor="start" fill="#000"  stroke="#000" stroke-width="0.196">3</text>
<text x="502.3" y="28.1" font-size="5.6" font-weight="bold" text-anchor="start" fill="#000"  stroke="#000" stroke-width="0.196">4</text>
<text x="502.2" y="5.8" font-size="5.2" font-weight="bold" text-anchor="start" fill="#000"  stroke="#000" stroke-width="0.182">Quartile</text>
<text x="456.6" y="13.8" font-size="5.1" font-weight="bold" text-anchor="start" fill="#000" textLength="17" lengthAdjust="spacingAndGlyphs"  stroke="#000" stroke-width="0.178">Lowest</text>
<text x="456.6" y="27.3" font-size="5.1" font-weight="bold" text-anchor="start" fill="#000" textLength="17" lengthAdjust="spacingAndGlyphs"  stroke="#000" stroke-width="0.178">highest</text>
<polyline points="363.60,119.00 364.50,119.00 364.50,122.00 366.00,122.00 366.00,126.00 367.50,126.00 367.50,128.40 369.00,128.40 369.00,130.00 371.00,130.00 371.00,130.50 373.00,130.50 373.00,131.00 375.00,131.00 375.00,133.60 377.00,133.60 377.00,136.00 378.50,136.00 378.50,138.00 380.00,138.00 380.00,140.00 381.50,140.00 381.50,142.40 383.00,142.40 383.00,144.40 385.00,144.40 385.00,145.80 387.00,145.80 387.00,147.00 389.00,147.00 389.00,148.40 391.00,148.40 391.00,149.40 393.25,149.40 393.25,149.45 395.50,149.45 395.50,149.50 397.75,149.50 397.75,149.55 400.00,149.55 400.00,149.60 401.50,149.60 401.50,150.30 403.00,150.30 403.00,151.00 404.50,151.00 404.50,151.70 406.00,151.70 406.00,152.40 496.60,152.40 496.60,169.00" fill="none" stroke="#2422b8" stroke-width="1.25" stroke-linejoin="miter" />
<polyline points="363.60,119.00 365.00,119.00 365.00,119.60 367.00,119.60 367.00,121.00 368.50,121.00 368.50,123.00 370.00,123.00 370.00,125.00 371.50,125.00 371.50,126.60 373.00,126.60 373.00,128.00 374.50,128.00 374.50,129.60 376.00,129.60 376.00,131.00 378.00,131.00 378.00,132.20 380.00,132.20 380.00,133.00 382.00,133.00 382.00,133.50 384.00,133.50 384.00,134.00 386.00,134.00 386.00,134.80 388.00,134.80 388.00,135.60 390.00,135.60 390.00,136.10 392.00,136.10 392.00,136.60 394.00,136.60 394.00,138.00 396.00,138.00 396.00,139.00 398.50,139.00 398.50,139.50 401.00,139.50 401.00,140.00 403.50,140.00 403.50,140.70 406.00,140.70 406.00,141.40 407.50,141.40 407.50,141.90 409.00,141.90 409.00,142.40 411.00,142.40 411.00,143.00 437.00,143.00 437.00,145.60 492.60,145.60 492.60,152.40 500.00,152.40" fill="none" stroke="#b01c34" stroke-width="1.25" stroke-linejoin="miter" />
<circle cx="417" cy="143" r="0.6" fill="#600"/>
<circle cx="420" cy="143" r="0.6" fill="#600"/>
<circle cx="423" cy="143" r="0.6" fill="#600"/>
<circle cx="426" cy="143" r="0.6" fill="#600"/>
<circle cx="429" cy="143" r="0.6" fill="#600"/>
<circle cx="432" cy="143" r="0.6" fill="#600"/>
<circle cx="435" cy="143" r="0.6" fill="#600"/>
<circle cx="443" cy="145.6" r="0.6" fill="#600"/>
<circle cx="447" cy="145.6" r="0.6" fill="#600"/>
<circle cx="462" cy="145.6" r="0.6" fill="#600"/>
<circle cx="466" cy="145.6" r="0.6" fill="#600"/>
<circle cx="470" cy="145.6" r="0.6" fill="#600"/>
<circle cx="474" cy="145.6" r="0.6" fill="#600"/>
<circle cx="479" cy="145.6" r="0.6" fill="#600"/>
<circle cx="412" cy="152.4" r="0.6" fill="#118"/>
<circle cx="425" cy="152.4" r="0.6" fill="#118"/>
<circle cx="439" cy="152.4" r="0.6" fill="#118"/>
<circle cx="443" cy="152.4" r="0.6" fill="#118"/>
<circle cx="446" cy="152.4" r="0.6" fill="#118"/>
<circle cx="450" cy="152.4" r="0.6" fill="#118"/>
<circle cx="464" cy="152.4" r="0.6" fill="#118"/>
<rect x="458" y="128.2" width="21.6" height="3.2" fill="#2226d8"/>
<rect x="458" y="133.8" width="21.6" height="3.2" fill="#a03038"/>
<text x="484.5" y="130.4" font-size="4.8" font-weight="bold" text-anchor="start" fill="#000" textLength="23.4" lengthAdjust="spacingAndGlyphs"  stroke="#000" stroke-width="0.168">Lower half</text>
<text x="484.5" y="136.3" font-size="4.8" font-weight="bold" text-anchor="start" fill="#000" textLength="23.4" lengthAdjust="spacingAndGlyphs"  stroke="#000" stroke-width="0.168">Upper half</text>
<polyline points="360.40,224.60 361.50,224.60 361.50,223.20 363.00,223.20 363.00,223.40 364.50,223.40 364.50,225.40 366.00,225.40 366.00,227.60 368.00,227.60 368.00,229.00 370.00,229.00 370.00,229.60 372.00,229.60 372.00,230.60 374.00,230.60 374.00,233.40 376.00,233.40 376.00,234.00 377.50,234.00 377.50,233.70 379.00,233.70 379.00,233.40 380.50,233.40 380.50,233.80 382.00,233.80 382.00,234.20 383.50,234.20 383.50,234.10 385.00,234.10 385.00,234.00 387.00,234.00 387.00,235.60 389.00,235.60 389.00,235.00 391.00,235.00 391.00,236.80 393.00,236.80 393.00,237.40 394.50,237.40 394.50,238.00 396.00,238.00 396.00,238.60 457.60,238.60" fill="none" stroke="#2422b8" stroke-width="1.1" stroke-linejoin="miter" />
<polyline points="360.40,224.60 362.00,224.60 362.00,225.60 363.50,225.60 363.50,226.30 365.00,226.30 365.00,227.00 367.50,227.00 367.50,228.60 370.00,228.60 370.00,230.00 372.50,230.00 372.50,231.60 375.00,231.60 375.00,233.00 376.50,233.00 376.50,233.30 378.00,233.30 378.00,233.60 380.00,233.60 380.00,233.80 382.00,233.80 382.00,234.00 383.50,234.00 383.50,234.30 385.00,234.30 385.00,234.60 386.50,234.60 386.50,234.80 388.00,234.80 388.00,235.00 390.00,235.00 390.00,235.80 392.00,235.80 392.00,236.60 394.00,236.60 394.00,237.00 396.00,237.00 396.00,237.20 497.00,237.20" fill="none" stroke="#b02c44" stroke-width="1.1" stroke-linejoin="miter" />
<circle cx="400" cy="238" r="0.6" fill="#226"/>
<circle cx="404" cy="238" r="0.6" fill="#226"/>
<circle cx="407" cy="238" r="0.6" fill="#226"/>
<circle cx="412" cy="238" r="0.6" fill="#226"/>
<circle cx="416" cy="238" r="0.6" fill="#226"/>
<circle cx="420" cy="238" r="0.6" fill="#226"/>
<circle cx="425" cy="238" r="0.6" fill="#226"/>
<circle cx="432" cy="238" r="0.6" fill="#226"/>
<circle cx="436" cy="238" r="0.6" fill="#226"/>
<circle cx="441" cy="238" r="0.6" fill="#226"/>
<circle cx="445" cy="238" r="0.6" fill="#226"/>
<circle cx="450" cy="238" r="0.6" fill="#226"/>
<circle cx="453" cy="238" r="0.6" fill="#226"/>
<rect x="459.3" y="262.6" width="21.7" height="3.1" fill="#2226d8"/>
<rect x="459.3" y="268.6" width="21.7" height="3.1" fill="#a03038"/>
<text x="485.6" y="265.1" font-size="4.8" font-weight="bold" text-anchor="start" fill="#000" textLength="24" lengthAdjust="spacingAndGlyphs"  stroke="#000" stroke-width="0.168">Lower half</text>
<text x="485.6" y="271.5" font-size="4.8" font-weight="bold" text-anchor="start" fill="#000" textLength="24" lengthAdjust="spacingAndGlyphs"  stroke="#000" stroke-width="0.168">Upper half</text>
</g>
</svg>
</body></html>
